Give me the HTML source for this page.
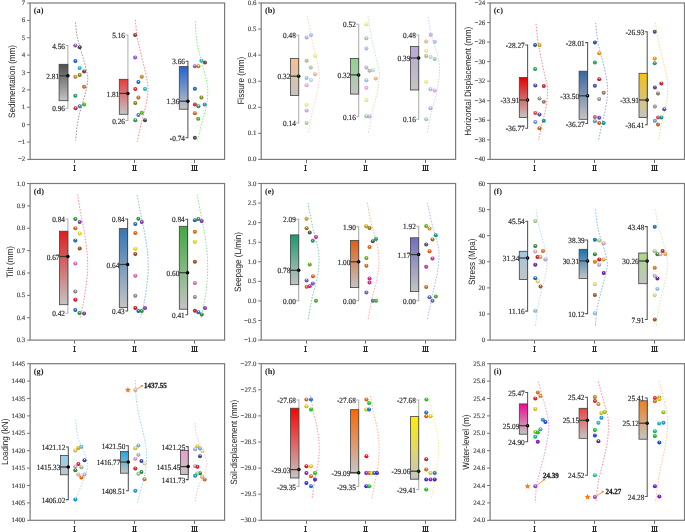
<!DOCTYPE html><html><head><meta charset="utf-8"><style>html,body{margin:0;padding:0;background:#fff;}svg{display:block;will-change:transform;filter:blur(0.3px);}text{text-rendering:geometricPrecision;}body{width:685px;height:532px;overflow:hidden;font-family:"Liberation Sans",sans-serif;}</style></head><body><svg width="685" height="532" viewBox="0 0 685 532"><defs><linearGradient id="g1" x1="0" y1="0" x2="0" y2="1"><stop offset="0" stop-color="#4e4e4e"/><stop offset="1" stop-color="#c4c4c4"/></linearGradient><radialGradient id="s0" cx="0.5" cy="0.45" r="0.58" fx="0.52" fy="0.3"><stop offset="0" stop-color="#ffffff" stop-opacity="0.85"/><stop offset="0.32" stop-color="#b060e0"/><stop offset="1" stop-color="#7e45a1"/></radialGradient><radialGradient id="s1" cx="0.5" cy="0.45" r="0.58" fx="0.52" fy="0.3"><stop offset="0" stop-color="#ffffff" stop-opacity="0.85"/><stop offset="0.32" stop-color="#505050"/><stop offset="1" stop-color="#393939"/></radialGradient><radialGradient id="s2" cx="0.5" cy="0.45" r="0.58" fx="0.52" fy="0.3"><stop offset="0" stop-color="#ffffff" stop-opacity="0.85"/><stop offset="0.32" stop-color="#2070e0"/><stop offset="1" stop-color="#1750a1"/></radialGradient><radialGradient id="s3" cx="0.5" cy="0.45" r="0.58" fx="0.52" fy="0.3"><stop offset="0" stop-color="#ffffff" stop-opacity="0.85"/><stop offset="0.32" stop-color="#20d0e0"/><stop offset="1" stop-color="#1795a1"/></radialGradient><radialGradient id="s4" cx="0.5" cy="0.45" r="0.58" fx="0.52" fy="0.3"><stop offset="0" stop-color="#ffffff" stop-opacity="0.85"/><stop offset="0.32" stop-color="#8a4848"/><stop offset="1" stop-color="#633333"/></radialGradient><radialGradient id="s5" cx="0.5" cy="0.45" r="0.58" fx="0.52" fy="0.3"><stop offset="0" stop-color="#ffffff" stop-opacity="0.85"/><stop offset="0.32" stop-color="#909820"/><stop offset="1" stop-color="#676d17"/></radialGradient><radialGradient id="s6" cx="0.5" cy="0.45" r="0.58" fx="0.52" fy="0.3"><stop offset="0" stop-color="#ffffff" stop-opacity="0.85"/><stop offset="0.32" stop-color="#d8a018"/><stop offset="1" stop-color="#9b7311"/></radialGradient><radialGradient id="s7" cx="0.5" cy="0.45" r="0.58" fx="0.52" fy="0.3"><stop offset="0" stop-color="#ffffff" stop-opacity="0.85"/><stop offset="0.32" stop-color="#f07020"/><stop offset="1" stop-color="#ac5017"/></radialGradient><radialGradient id="s8" cx="0.5" cy="0.45" r="0.58" fx="0.52" fy="0.3"><stop offset="0" stop-color="#ffffff" stop-opacity="0.85"/><stop offset="0.32" stop-color="#30b070"/><stop offset="1" stop-color="#227e50"/></radialGradient><radialGradient id="s9" cx="0.5" cy="0.45" r="0.58" fx="0.52" fy="0.3"><stop offset="0" stop-color="#ffffff" stop-opacity="0.85"/><stop offset="0.32" stop-color="#60c020"/><stop offset="1" stop-color="#458a17"/></radialGradient><radialGradient id="s10" cx="0.5" cy="0.45" r="0.58" fx="0.52" fy="0.3"><stop offset="0" stop-color="#ffffff" stop-opacity="0.85"/><stop offset="0.32" stop-color="#5090d8"/><stop offset="1" stop-color="#39679b"/></radialGradient><radialGradient id="s11" cx="0.5" cy="0.45" r="0.58" fx="0.52" fy="0.3"><stop offset="0" stop-color="#ffffff" stop-opacity="0.85"/><stop offset="0.32" stop-color="#e83848"/><stop offset="1" stop-color="#a72833"/></radialGradient><linearGradient id="g2" x1="0" y1="0" x2="0" y2="1"><stop offset="0" stop-color="#e83c3c"/><stop offset="1" stop-color="#c4c4c4"/></linearGradient><linearGradient id="g3" x1="0" y1="0" x2="0" y2="1"><stop offset="0" stop-color="#2066d0"/><stop offset="1" stop-color="#c4c4c4"/></linearGradient><linearGradient id="g4" x1="0" y1="0" x2="0" y2="1"><stop offset="0" stop-color="#f8c090"/><stop offset="1" stop-color="#c4c4c4"/></linearGradient><radialGradient id="s12" cx="0.5" cy="0.45" r="0.58" fx="0.52" fy="0.3"><stop offset="0" stop-color="#ffffff" stop-opacity="0.85"/><stop offset="0.32" stop-color="#b0c8fa"/><stop offset="1" stop-color="#97acd7"/></radialGradient><radialGradient id="s13" cx="0.5" cy="0.45" r="0.58" fx="0.52" fy="0.3"><stop offset="0" stop-color="#ffffff" stop-opacity="0.85"/><stop offset="0.32" stop-color="#d0b4ec"/><stop offset="1" stop-color="#b29aca"/></radialGradient><radialGradient id="s14" cx="0.5" cy="0.45" r="0.58" fx="0.52" fy="0.3"><stop offset="0" stop-color="#ffffff" stop-opacity="0.85"/><stop offset="0.32" stop-color="#faf490"/><stop offset="1" stop-color="#d7d17b"/></radialGradient><radialGradient id="s15" cx="0.5" cy="0.45" r="0.58" fx="0.52" fy="0.3"><stop offset="0" stop-color="#ffffff" stop-opacity="0.85"/><stop offset="0.32" stop-color="#c0c0a0"/><stop offset="1" stop-color="#a5a589"/></radialGradient><radialGradient id="s16" cx="0.5" cy="0.45" r="0.58" fx="0.52" fy="0.3"><stop offset="0" stop-color="#ffffff" stop-opacity="0.85"/><stop offset="0.32" stop-color="#a8dca8"/><stop offset="1" stop-color="#90bd90"/></radialGradient><radialGradient id="s17" cx="0.5" cy="0.45" r="0.58" fx="0.52" fy="0.3"><stop offset="0" stop-color="#ffffff" stop-opacity="0.85"/><stop offset="0.32" stop-color="#f8c098"/><stop offset="1" stop-color="#d5a582"/></radialGradient><radialGradient id="s18" cx="0.5" cy="0.45" r="0.58" fx="0.52" fy="0.3"><stop offset="0" stop-color="#ffffff" stop-opacity="0.85"/><stop offset="0.32" stop-color="#bce6f4"/><stop offset="1" stop-color="#a1c5d1"/></radialGradient><radialGradient id="s19" cx="0.5" cy="0.45" r="0.58" fx="0.52" fy="0.3"><stop offset="0" stop-color="#ffffff" stop-opacity="0.85"/><stop offset="0.32" stop-color="#faaaf4"/><stop offset="1" stop-color="#d792d1"/></radialGradient><linearGradient id="g5" x1="0" y1="0" x2="0" y2="1"><stop offset="0" stop-color="#8ed08e"/><stop offset="1" stop-color="#c4c4c4"/></linearGradient><linearGradient id="g6" x1="0" y1="0" x2="0" y2="1"><stop offset="0" stop-color="#b8a8d8"/><stop offset="1" stop-color="#c4c4c4"/></linearGradient><linearGradient id="g7" x1="0" y1="0" x2="0" y2="1"><stop offset="0" stop-color="#e60000"/><stop offset="1" stop-color="#c4c4c4"/></linearGradient><radialGradient id="s20" cx="0.5" cy="0.45" r="0.58" fx="0.52" fy="0.3"><stop offset="0" stop-color="#ffffff" stop-opacity="0.85"/><stop offset="0.32" stop-color="#3860a8"/><stop offset="1" stop-color="#284578"/></radialGradient><radialGradient id="s21" cx="0.5" cy="0.45" r="0.58" fx="0.52" fy="0.3"><stop offset="0" stop-color="#ffffff" stop-opacity="0.85"/><stop offset="0.32" stop-color="#f0b020"/><stop offset="1" stop-color="#ac7e17"/></radialGradient><radialGradient id="s22" cx="0.5" cy="0.45" r="0.58" fx="0.52" fy="0.3"><stop offset="0" stop-color="#ffffff" stop-opacity="0.85"/><stop offset="0.32" stop-color="#30b860"/><stop offset="1" stop-color="#228445"/></radialGradient><radialGradient id="s23" cx="0.5" cy="0.45" r="0.58" fx="0.52" fy="0.3"><stop offset="0" stop-color="#ffffff" stop-opacity="0.85"/><stop offset="0.32" stop-color="#5858b0"/><stop offset="1" stop-color="#3f3f7e"/></radialGradient><radialGradient id="s24" cx="0.5" cy="0.45" r="0.58" fx="0.52" fy="0.3"><stop offset="0" stop-color="#ffffff" stop-opacity="0.85"/><stop offset="0.32" stop-color="#d83040"/><stop offset="1" stop-color="#9b222e"/></radialGradient><radialGradient id="s25" cx="0.5" cy="0.45" r="0.58" fx="0.52" fy="0.3"><stop offset="0" stop-color="#ffffff" stop-opacity="0.85"/><stop offset="0.32" stop-color="#a8a8a8"/><stop offset="1" stop-color="#787878"/></radialGradient><radialGradient id="s26" cx="0.5" cy="0.45" r="0.58" fx="0.52" fy="0.3"><stop offset="0" stop-color="#ffffff" stop-opacity="0.85"/><stop offset="0.32" stop-color="#a08878"/><stop offset="1" stop-color="#736156"/></radialGradient><radialGradient id="s27" cx="0.5" cy="0.45" r="0.58" fx="0.52" fy="0.3"><stop offset="0" stop-color="#ffffff" stop-opacity="0.85"/><stop offset="0.32" stop-color="#f05868"/><stop offset="1" stop-color="#ac3f4a"/></radialGradient><radialGradient id="s28" cx="0.5" cy="0.45" r="0.58" fx="0.52" fy="0.3"><stop offset="0" stop-color="#ffffff" stop-opacity="0.85"/><stop offset="0.32" stop-color="#6858d0"/><stop offset="1" stop-color="#4a3f95"/></radialGradient><radialGradient id="s29" cx="0.5" cy="0.45" r="0.58" fx="0.52" fy="0.3"><stop offset="0" stop-color="#ffffff" stop-opacity="0.85"/><stop offset="0.32" stop-color="#70a8e8"/><stop offset="1" stop-color="#5078a7"/></radialGradient><radialGradient id="s30" cx="0.5" cy="0.45" r="0.58" fx="0.52" fy="0.3"><stop offset="0" stop-color="#ffffff" stop-opacity="0.85"/><stop offset="0.32" stop-color="#10a8a8"/><stop offset="1" stop-color="#0b7878"/></radialGradient><radialGradient id="s31" cx="0.5" cy="0.45" r="0.58" fx="0.52" fy="0.3"><stop offset="0" stop-color="#ffffff" stop-opacity="0.85"/><stop offset="0.32" stop-color="#d87020"/><stop offset="1" stop-color="#9b5017"/></radialGradient><linearGradient id="g8" x1="0" y1="0" x2="0" y2="1"><stop offset="0" stop-color="#3a66a0"/><stop offset="1" stop-color="#c4c4c4"/></linearGradient><linearGradient id="g9" x1="0" y1="0" x2="0" y2="1"><stop offset="0" stop-color="#f8c010"/><stop offset="1" stop-color="#c4c4c4"/></linearGradient><linearGradient id="g10" x1="0" y1="0" x2="0" y2="1"><stop offset="0" stop-color="#e01c1c"/><stop offset="1" stop-color="#c4c4c4"/></linearGradient><radialGradient id="s32" cx="0.5" cy="0.45" r="0.58" fx="0.52" fy="0.3"><stop offset="0" stop-color="#ffffff" stop-opacity="0.85"/><stop offset="0.32" stop-color="#30a840"/><stop offset="1" stop-color="#22782e"/></radialGradient><radialGradient id="s33" cx="0.5" cy="0.45" r="0.58" fx="0.52" fy="0.3"><stop offset="0" stop-color="#ffffff" stop-opacity="0.85"/><stop offset="0.32" stop-color="#9040c0"/><stop offset="1" stop-color="#672e8a"/></radialGradient><radialGradient id="s34" cx="0.5" cy="0.45" r="0.58" fx="0.52" fy="0.3"><stop offset="0" stop-color="#ffffff" stop-opacity="0.85"/><stop offset="0.32" stop-color="#f07810"/><stop offset="1" stop-color="#ac560b"/></radialGradient><radialGradient id="s35" cx="0.5" cy="0.45" r="0.58" fx="0.52" fy="0.3"><stop offset="0" stop-color="#ffffff" stop-opacity="0.85"/><stop offset="0.32" stop-color="#f8f020"/><stop offset="1" stop-color="#b2ac17"/></radialGradient><radialGradient id="s36" cx="0.5" cy="0.45" r="0.58" fx="0.52" fy="0.3"><stop offset="0" stop-color="#ffffff" stop-opacity="0.85"/><stop offset="0.32" stop-color="#2878c8"/><stop offset="1" stop-color="#1c5690"/></radialGradient><radialGradient id="s37" cx="0.5" cy="0.45" r="0.58" fx="0.52" fy="0.3"><stop offset="0" stop-color="#ffffff" stop-opacity="0.85"/><stop offset="0.32" stop-color="#a85828"/><stop offset="1" stop-color="#783f1c"/></radialGradient><radialGradient id="s38" cx="0.5" cy="0.45" r="0.58" fx="0.52" fy="0.3"><stop offset="0" stop-color="#ffffff" stop-opacity="0.85"/><stop offset="0.32" stop-color="#f078c8"/><stop offset="1" stop-color="#ac5690"/></radialGradient><radialGradient id="s39" cx="0.5" cy="0.45" r="0.58" fx="0.52" fy="0.3"><stop offset="0" stop-color="#ffffff" stop-opacity="0.85"/><stop offset="0.32" stop-color="#989898"/><stop offset="1" stop-color="#6d6d6d"/></radialGradient><radialGradient id="s40" cx="0.5" cy="0.45" r="0.58" fx="0.52" fy="0.3"><stop offset="0" stop-color="#ffffff" stop-opacity="0.85"/><stop offset="0.32" stop-color="#e82028"/><stop offset="1" stop-color="#a7171c"/></radialGradient><linearGradient id="g11" x1="0" y1="0" x2="0" y2="1"><stop offset="0" stop-color="#3476b6"/><stop offset="1" stop-color="#c4c4c4"/></linearGradient><linearGradient id="g12" x1="0" y1="0" x2="0" y2="1"><stop offset="0" stop-color="#40a840"/><stop offset="1" stop-color="#c4c4c4"/></linearGradient><linearGradient id="g13" x1="0" y1="0" x2="0" y2="1"><stop offset="0" stop-color="#1a9a70"/><stop offset="1" stop-color="#c4c4c4"/></linearGradient><radialGradient id="s41" cx="0.5" cy="0.45" r="0.58" fx="0.52" fy="0.3"><stop offset="0" stop-color="#ffffff" stop-opacity="0.85"/><stop offset="0.32" stop-color="#e8b020"/><stop offset="1" stop-color="#a77e17"/></radialGradient><radialGradient id="s42" cx="0.5" cy="0.45" r="0.58" fx="0.52" fy="0.3"><stop offset="0" stop-color="#ffffff" stop-opacity="0.85"/><stop offset="0.32" stop-color="#b08020"/><stop offset="1" stop-color="#7e5c17"/></radialGradient><radialGradient id="s43" cx="0.5" cy="0.45" r="0.58" fx="0.52" fy="0.3"><stop offset="0" stop-color="#ffffff" stop-opacity="0.85"/><stop offset="0.32" stop-color="#606060"/><stop offset="1" stop-color="#454545"/></radialGradient><radialGradient id="s44" cx="0.5" cy="0.45" r="0.58" fx="0.52" fy="0.3"><stop offset="0" stop-color="#ffffff" stop-opacity="0.85"/><stop offset="0.32" stop-color="#f030a0"/><stop offset="1" stop-color="#ac2273"/></radialGradient><radialGradient id="s45" cx="0.5" cy="0.45" r="0.58" fx="0.52" fy="0.3"><stop offset="0" stop-color="#ffffff" stop-opacity="0.85"/><stop offset="0.32" stop-color="#20a880"/><stop offset="1" stop-color="#17785c"/></radialGradient><radialGradient id="s46" cx="0.5" cy="0.45" r="0.58" fx="0.52" fy="0.3"><stop offset="0" stop-color="#ffffff" stop-opacity="0.85"/><stop offset="0.32" stop-color="#78c020"/><stop offset="1" stop-color="#568a17"/></radialGradient><radialGradient id="s47" cx="0.5" cy="0.45" r="0.58" fx="0.52" fy="0.3"><stop offset="0" stop-color="#ffffff" stop-opacity="0.85"/><stop offset="0.32" stop-color="#7070d0"/><stop offset="1" stop-color="#505095"/></radialGradient><radialGradient id="s48" cx="0.5" cy="0.45" r="0.58" fx="0.52" fy="0.3"><stop offset="0" stop-color="#ffffff" stop-opacity="0.85"/><stop offset="0.32" stop-color="#58b830"/><stop offset="1" stop-color="#3f8422"/></radialGradient><linearGradient id="g14" x1="0" y1="0" x2="0" y2="1"><stop offset="0" stop-color="#e06010"/><stop offset="1" stop-color="#c4c4c4"/></linearGradient><linearGradient id="g15" x1="0" y1="0" x2="0" y2="1"><stop offset="0" stop-color="#7070c0"/><stop offset="1" stop-color="#c4c4c4"/></linearGradient><linearGradient id="g16" x1="0" y1="0" x2="0" y2="1"><stop offset="0" stop-color="#a0c8e4"/><stop offset="1" stop-color="#c4c4c4"/></linearGradient><radialGradient id="s49" cx="0.5" cy="0.45" r="0.58" fx="0.52" fy="0.3"><stop offset="0" stop-color="#ffffff" stop-opacity="0.85"/><stop offset="0.32" stop-color="#b8e098"/><stop offset="1" stop-color="#84a16d"/></radialGradient><radialGradient id="s50" cx="0.5" cy="0.45" r="0.58" fx="0.52" fy="0.3"><stop offset="0" stop-color="#ffffff" stop-opacity="0.85"/><stop offset="0.32" stop-color="#30a040"/><stop offset="1" stop-color="#22732e"/></radialGradient><radialGradient id="s51" cx="0.5" cy="0.45" r="0.58" fx="0.52" fy="0.3"><stop offset="0" stop-color="#ffffff" stop-opacity="0.85"/><stop offset="0.32" stop-color="#f88010"/><stop offset="1" stop-color="#b25c0b"/></radialGradient><radialGradient id="s52" cx="0.5" cy="0.45" r="0.58" fx="0.52" fy="0.3"><stop offset="0" stop-color="#ffffff" stop-opacity="0.85"/><stop offset="0.32" stop-color="#f8b8c8"/><stop offset="1" stop-color="#b28490"/></radialGradient><radialGradient id="s53" cx="0.5" cy="0.45" r="0.58" fx="0.52" fy="0.3"><stop offset="0" stop-color="#ffffff" stop-opacity="0.85"/><stop offset="0.32" stop-color="#e02030"/><stop offset="1" stop-color="#a11722"/></radialGradient><radialGradient id="s54" cx="0.5" cy="0.45" r="0.58" fx="0.52" fy="0.3"><stop offset="0" stop-color="#ffffff" stop-opacity="0.85"/><stop offset="0.32" stop-color="#f8b858"/><stop offset="1" stop-color="#b2843f"/></radialGradient><radialGradient id="s55" cx="0.5" cy="0.45" r="0.58" fx="0.52" fy="0.3"><stop offset="0" stop-color="#ffffff" stop-opacity="0.85"/><stop offset="0.32" stop-color="#d0b8e8"/><stop offset="1" stop-color="#9584a7"/></radialGradient><radialGradient id="s56" cx="0.5" cy="0.45" r="0.58" fx="0.52" fy="0.3"><stop offset="0" stop-color="#ffffff" stop-opacity="0.85"/><stop offset="0.32" stop-color="#7030a0"/><stop offset="1" stop-color="#502273"/></radialGradient><radialGradient id="s57" cx="0.5" cy="0.45" r="0.58" fx="0.52" fy="0.3"><stop offset="0" stop-color="#ffffff" stop-opacity="0.85"/><stop offset="0.32" stop-color="#2080c8"/><stop offset="1" stop-color="#175c90"/></radialGradient><radialGradient id="s58" cx="0.5" cy="0.45" r="0.58" fx="0.52" fy="0.3"><stop offset="0" stop-color="#ffffff" stop-opacity="0.85"/><stop offset="0.32" stop-color="#f8f080"/><stop offset="1" stop-color="#b2ac5c"/></radialGradient><radialGradient id="s59" cx="0.5" cy="0.45" r="0.58" fx="0.52" fy="0.3"><stop offset="0" stop-color="#ffffff" stop-opacity="0.85"/><stop offset="0.32" stop-color="#c05828"/><stop offset="1" stop-color="#8a3f1c"/></radialGradient><radialGradient id="s60" cx="0.5" cy="0.45" r="0.58" fx="0.52" fy="0.3"><stop offset="0" stop-color="#ffffff" stop-opacity="0.85"/><stop offset="0.32" stop-color="#a8d0f0"/><stop offset="1" stop-color="#7895ac"/></radialGradient><linearGradient id="g17" x1="0" y1="0" x2="0" y2="1"><stop offset="0" stop-color="#1a70b0"/><stop offset="1" stop-color="#c4c4c4"/></linearGradient><linearGradient id="g18" x1="0" y1="0" x2="0" y2="1"><stop offset="0" stop-color="#a8d888"/><stop offset="1" stop-color="#c4c4c4"/></linearGradient><linearGradient id="g19" x1="0" y1="0" x2="0" y2="1"><stop offset="0" stop-color="#90d0f0"/><stop offset="1" stop-color="#c4c4c4"/></linearGradient><radialGradient id="s61" cx="0.5" cy="0.45" r="0.58" fx="0.52" fy="0.3"><stop offset="0" stop-color="#ffffff" stop-opacity="0.85"/><stop offset="0.32" stop-color="#f0e040"/><stop offset="1" stop-color="#aca12e"/></radialGradient><radialGradient id="s62" cx="0.5" cy="0.45" r="0.58" fx="0.52" fy="0.3"><stop offset="0" stop-color="#ffffff" stop-opacity="0.85"/><stop offset="0.32" stop-color="#f0c020"/><stop offset="1" stop-color="#ac8a17"/></radialGradient><radialGradient id="s63" cx="0.5" cy="0.45" r="0.58" fx="0.52" fy="0.3"><stop offset="0" stop-color="#ffffff" stop-opacity="0.85"/><stop offset="0.32" stop-color="#80c8f0"/><stop offset="1" stop-color="#5c90ac"/></radialGradient><radialGradient id="s64" cx="0.5" cy="0.45" r="0.58" fx="0.52" fy="0.3"><stop offset="0" stop-color="#ffffff" stop-opacity="0.85"/><stop offset="0.32" stop-color="#4050b0"/><stop offset="1" stop-color="#2e397e"/></radialGradient><radialGradient id="s65" cx="0.5" cy="0.45" r="0.58" fx="0.52" fy="0.3"><stop offset="0" stop-color="#ffffff" stop-opacity="0.85"/><stop offset="0.32" stop-color="#e03040"/><stop offset="1" stop-color="#a1222e"/></radialGradient><radialGradient id="s66" cx="0.5" cy="0.45" r="0.58" fx="0.52" fy="0.3"><stop offset="0" stop-color="#ffffff" stop-opacity="0.85"/><stop offset="0.32" stop-color="#f0a8d0"/><stop offset="1" stop-color="#ac7895"/></radialGradient><radialGradient id="s67" cx="0.5" cy="0.45" r="0.58" fx="0.52" fy="0.3"><stop offset="0" stop-color="#ffffff" stop-opacity="0.85"/><stop offset="0.32" stop-color="#a8d898"/><stop offset="1" stop-color="#789b6d"/></radialGradient><radialGradient id="s68" cx="0.5" cy="0.45" r="0.58" fx="0.52" fy="0.3"><stop offset="0" stop-color="#ffffff" stop-opacity="0.85"/><stop offset="0.32" stop-color="#20a040"/><stop offset="1" stop-color="#17732e"/></radialGradient><radialGradient id="s69" cx="0.5" cy="0.45" r="0.58" fx="0.52" fy="0.3"><stop offset="0" stop-color="#ffffff" stop-opacity="0.85"/><stop offset="0.32" stop-color="#f8c098"/><stop offset="1" stop-color="#b28a6d"/></radialGradient><radialGradient id="s70" cx="0.5" cy="0.45" r="0.58" fx="0.52" fy="0.3"><stop offset="0" stop-color="#ffffff" stop-opacity="0.85"/><stop offset="0.32" stop-color="#c0c0f0"/><stop offset="1" stop-color="#8a8aac"/></radialGradient><radialGradient id="s71" cx="0.5" cy="0.45" r="0.58" fx="0.52" fy="0.3"><stop offset="0" stop-color="#ffffff" stop-opacity="0.85"/><stop offset="0.32" stop-color="#f08020"/><stop offset="1" stop-color="#ac5c17"/></radialGradient><radialGradient id="s72" cx="0.5" cy="0.45" r="0.58" fx="0.52" fy="0.3"><stop offset="0" stop-color="#ffffff" stop-opacity="0.85"/><stop offset="0.32" stop-color="#20a8e8"/><stop offset="1" stop-color="#1778a7"/></radialGradient><linearGradient id="g20" x1="0" y1="0" x2="0" y2="1"><stop offset="0" stop-color="#20a8e0"/><stop offset="1" stop-color="#c4c4c4"/></linearGradient><radialGradient id="s73" cx="0.5" cy="0.45" r="0.58" fx="0.52" fy="0.3"><stop offset="0" stop-color="#ffffff" stop-opacity="0.85"/><stop offset="0.32" stop-color="#f8f0a0"/><stop offset="1" stop-color="#b2ac73"/></radialGradient><linearGradient id="g21" x1="0" y1="0" x2="0" y2="1"><stop offset="0" stop-color="#e8a0c8"/><stop offset="1" stop-color="#c4c4c4"/></linearGradient><linearGradient id="g22" x1="0" y1="0" x2="0" y2="1"><stop offset="0" stop-color="#ff0000"/><stop offset="1" stop-color="#c4c4c4"/></linearGradient><radialGradient id="s74" cx="0.5" cy="0.45" r="0.58" fx="0.52" fy="0.3"><stop offset="0" stop-color="#ffffff" stop-opacity="0.85"/><stop offset="0.32" stop-color="#ff7020"/><stop offset="1" stop-color="#b75017"/></radialGradient><radialGradient id="s75" cx="0.5" cy="0.45" r="0.58" fx="0.52" fy="0.3"><stop offset="0" stop-color="#ffffff" stop-opacity="0.85"/><stop offset="0.32" stop-color="#2080ff"/><stop offset="1" stop-color="#175cb7"/></radialGradient><radialGradient id="s76" cx="0.5" cy="0.45" r="0.58" fx="0.52" fy="0.3"><stop offset="0" stop-color="#ffffff" stop-opacity="0.85"/><stop offset="0.32" stop-color="#f8e020"/><stop offset="1" stop-color="#b2a117"/></radialGradient><radialGradient id="s77" cx="0.5" cy="0.45" r="0.58" fx="0.52" fy="0.3"><stop offset="0" stop-color="#ffffff" stop-opacity="0.85"/><stop offset="0.32" stop-color="#20e020"/><stop offset="1" stop-color="#17a117"/></radialGradient><radialGradient id="s78" cx="0.5" cy="0.45" r="0.58" fx="0.52" fy="0.3"><stop offset="0" stop-color="#ffffff" stop-opacity="0.85"/><stop offset="0.32" stop-color="#ff2020"/><stop offset="1" stop-color="#b71717"/></radialGradient><radialGradient id="s79" cx="0.5" cy="0.45" r="0.58" fx="0.52" fy="0.3"><stop offset="0" stop-color="#ffffff" stop-opacity="0.85"/><stop offset="0.32" stop-color="#a020f0"/><stop offset="1" stop-color="#7317ac"/></radialGradient><radialGradient id="s80" cx="0.5" cy="0.45" r="0.58" fx="0.52" fy="0.3"><stop offset="0" stop-color="#ffffff" stop-opacity="0.85"/><stop offset="0.32" stop-color="#6020e0"/><stop offset="1" stop-color="#4517a1"/></radialGradient><radialGradient id="s81" cx="0.5" cy="0.45" r="0.58" fx="0.52" fy="0.3"><stop offset="0" stop-color="#ffffff" stop-opacity="0.85"/><stop offset="0.32" stop-color="#5030f0"/><stop offset="1" stop-color="#3922ac"/></radialGradient><linearGradient id="g23" x1="0" y1="0" x2="0" y2="1"><stop offset="0" stop-color="#ff6600"/><stop offset="1" stop-color="#c4c4c4"/></linearGradient><linearGradient id="g24" x1="0" y1="0" x2="0" y2="1"><stop offset="0" stop-color="#ffee00"/><stop offset="1" stop-color="#c4c4c4"/></linearGradient><linearGradient id="g25" x1="0" y1="0" x2="0" y2="1"><stop offset="0" stop-color="#f00890"/><stop offset="1" stop-color="#c4c4c4"/></linearGradient><radialGradient id="s82" cx="0.5" cy="0.45" r="0.58" fx="0.52" fy="0.3"><stop offset="0" stop-color="#ffffff" stop-opacity="0.85"/><stop offset="0.32" stop-color="#e0a030"/><stop offset="1" stop-color="#a17322"/></radialGradient><radialGradient id="s83" cx="0.5" cy="0.45" r="0.58" fx="0.52" fy="0.3"><stop offset="0" stop-color="#ffffff" stop-opacity="0.85"/><stop offset="0.32" stop-color="#f03030"/><stop offset="1" stop-color="#ac2222"/></radialGradient><radialGradient id="s84" cx="0.5" cy="0.45" r="0.58" fx="0.52" fy="0.3"><stop offset="0" stop-color="#ffffff" stop-opacity="0.85"/><stop offset="0.32" stop-color="#e8e020"/><stop offset="1" stop-color="#a7a117"/></radialGradient><radialGradient id="s85" cx="0.5" cy="0.45" r="0.58" fx="0.52" fy="0.3"><stop offset="0" stop-color="#ffffff" stop-opacity="0.85"/><stop offset="0.32" stop-color="#30a0f0"/><stop offset="1" stop-color="#2273ac"/></radialGradient><radialGradient id="s86" cx="0.5" cy="0.45" r="0.58" fx="0.52" fy="0.3"><stop offset="0" stop-color="#ffffff" stop-opacity="0.85"/><stop offset="0.32" stop-color="#2050f0"/><stop offset="1" stop-color="#1739ac"/></radialGradient><radialGradient id="s87" cx="0.5" cy="0.45" r="0.58" fx="0.52" fy="0.3"><stop offset="0" stop-color="#ffffff" stop-opacity="0.85"/><stop offset="0.32" stop-color="#20d0d0"/><stop offset="1" stop-color="#179595"/></radialGradient><radialGradient id="s88" cx="0.5" cy="0.45" r="0.58" fx="0.52" fy="0.3"><stop offset="0" stop-color="#ffffff" stop-opacity="0.85"/><stop offset="0.32" stop-color="#a0e020"/><stop offset="1" stop-color="#73a117"/></radialGradient><radialGradient id="s89" cx="0.5" cy="0.45" r="0.58" fx="0.52" fy="0.3"><stop offset="0" stop-color="#ffffff" stop-opacity="0.85"/><stop offset="0.32" stop-color="#20d020"/><stop offset="1" stop-color="#179517"/></radialGradient><radialGradient id="s90" cx="0.5" cy="0.45" r="0.58" fx="0.52" fy="0.3"><stop offset="0" stop-color="#ffffff" stop-opacity="0.85"/><stop offset="0.32" stop-color="#20c8a0"/><stop offset="1" stop-color="#179073"/></radialGradient><radialGradient id="s91" cx="0.5" cy="0.45" r="0.58" fx="0.52" fy="0.3"><stop offset="0" stop-color="#ffffff" stop-opacity="0.85"/><stop offset="0.32" stop-color="#8020e0"/><stop offset="1" stop-color="#5c17a1"/></radialGradient><radialGradient id="s92" cx="0.5" cy="0.45" r="0.58" fx="0.52" fy="0.3"><stop offset="0" stop-color="#ffffff" stop-opacity="0.85"/><stop offset="0.32" stop-color="#b050e0"/><stop offset="1" stop-color="#7e39a1"/></radialGradient><linearGradient id="g26" x1="0" y1="0" x2="0" y2="1"><stop offset="0" stop-color="#f04040"/><stop offset="1" stop-color="#c4c4c4"/></linearGradient><radialGradient id="s93" cx="0.5" cy="0.45" r="0.58" fx="0.52" fy="0.3"><stop offset="0" stop-color="#ffffff" stop-opacity="0.85"/><stop offset="0.32" stop-color="#20e0a0"/><stop offset="1" stop-color="#17a173"/></radialGradient><linearGradient id="g27" x1="0" y1="0" x2="0" y2="1"><stop offset="0" stop-color="#f08020"/><stop offset="1" stop-color="#c4c4c4"/></linearGradient></defs><rect width="685" height="532" fill="#fff"/><text x="0" y="0" transform="translate(14.5,117.9) rotate(-90) scale(0.882,1)" text-anchor="start" font-family="Liberation Sans, sans-serif" font-size="9.2" fill="#222222">Sedimentation (mm)</text>
<line x1="27.1" y1="3" x2="30.1" y2="3" stroke="#707070" stroke-width="1"/>
<text x="25.2" y="5" text-anchor="end" font-family="Liberation Serif, serif" font-size="6.8" fill="#404040" stroke="#404040" stroke-width="0.15">7</text>
<line x1="27.1" y1="20.38" x2="30.1" y2="20.38" stroke="#707070" stroke-width="1"/>
<text x="25.2" y="22.38" text-anchor="end" font-family="Liberation Serif, serif" font-size="6.8" fill="#404040" stroke="#404040" stroke-width="0.15">6</text>
<line x1="27.1" y1="37.76" x2="30.1" y2="37.76" stroke="#707070" stroke-width="1"/>
<text x="25.2" y="39.76" text-anchor="end" font-family="Liberation Serif, serif" font-size="6.8" fill="#404040" stroke="#404040" stroke-width="0.15">5</text>
<line x1="27.1" y1="55.13" x2="30.1" y2="55.13" stroke="#707070" stroke-width="1"/>
<text x="25.2" y="57.13" text-anchor="end" font-family="Liberation Serif, serif" font-size="6.8" fill="#404040" stroke="#404040" stroke-width="0.15">4</text>
<line x1="27.1" y1="72.51" x2="30.1" y2="72.51" stroke="#707070" stroke-width="1"/>
<text x="25.2" y="74.51" text-anchor="end" font-family="Liberation Serif, serif" font-size="6.8" fill="#404040" stroke="#404040" stroke-width="0.15">3</text>
<line x1="27.1" y1="89.89" x2="30.1" y2="89.89" stroke="#707070" stroke-width="1"/>
<text x="25.2" y="91.89" text-anchor="end" font-family="Liberation Serif, serif" font-size="6.8" fill="#404040" stroke="#404040" stroke-width="0.15">2</text>
<line x1="27.1" y1="107.27" x2="30.1" y2="107.27" stroke="#707070" stroke-width="1"/>
<text x="25.2" y="109.27" text-anchor="end" font-family="Liberation Serif, serif" font-size="6.8" fill="#404040" stroke="#404040" stroke-width="0.15">1</text>
<line x1="27.1" y1="124.64" x2="30.1" y2="124.64" stroke="#707070" stroke-width="1"/>
<text x="25.2" y="126.64" text-anchor="end" font-family="Liberation Serif, serif" font-size="6.8" fill="#404040" stroke="#404040" stroke-width="0.15">0</text>
<line x1="27.1" y1="142.02" x2="30.1" y2="142.02" stroke="#707070" stroke-width="1"/>
<text x="25.2" y="144.02" text-anchor="end" font-family="Liberation Serif, serif" font-size="6.8" fill="#404040" stroke="#404040" stroke-width="0.15">−1</text>
<line x1="27.1" y1="159.4" x2="30.1" y2="159.4" stroke="#707070" stroke-width="1"/>
<text x="25.2" y="161.4" text-anchor="end" font-family="Liberation Serif, serif" font-size="6.8" fill="#404040" stroke="#404040" stroke-width="0.15">−2</text>
<line x1="74.5" y1="159.4" x2="74.5" y2="163" stroke="#707070" stroke-width="1"/>
<rect x="73.2" y="165" width="2.6" height="0.8" fill="#555"/><rect x="73.2" y="170" width="2.6" height="1" fill="#2a2a2a"/><rect x="74" y="165" width="1" height="6" fill="#2a2a2a"/>
<line x1="134.5" y1="159.4" x2="134.5" y2="163" stroke="#707070" stroke-width="1"/>
<rect x="132.2" y="165" width="4.6" height="0.8" fill="#555"/><rect x="132.2" y="170" width="4.6" height="1" fill="#2a2a2a"/><rect x="133" y="165" width="1" height="6" fill="#2a2a2a"/><rect x="135" y="165" width="1" height="6" fill="#2a2a2a"/>
<line x1="194.5" y1="159.4" x2="194.5" y2="163" stroke="#707070" stroke-width="1"/>
<rect x="191.2" y="165" width="6.6" height="0.8" fill="#555"/><rect x="191.2" y="170" width="6.6" height="1" fill="#2a2a2a"/><rect x="192" y="165" width="1" height="6" fill="#2a2a2a"/><rect x="194" y="165" width="1" height="6" fill="#2a2a2a"/><rect x="196" y="165" width="1" height="6" fill="#2a2a2a"/>
<rect x="30.1" y="3" width="194.5" height="156.4" fill="none" stroke="#7a7a7a" stroke-width="1.2"/>
<text x="33.8" y="13.4" font-family="Liberation Serif, serif" font-weight="bold" font-size="8.3" fill="#202020">(a)</text>
<text x="0" y="0" transform="translate(65,48.5) scale(0.925,1)" text-anchor="end" font-family="Liberation Serif, serif" font-size="7.9" fill="#262626" stroke="#262626" stroke-width="0.16">4.56</text>
<text x="0" y="0" transform="translate(65,111.4) scale(0.925,1)" text-anchor="end" font-family="Liberation Serif, serif" font-size="7.9" fill="#262626" stroke="#262626" stroke-width="0.16">0.96</text>
<text x="0" y="0" transform="translate(59.1,78.9) scale(0.925,1)" text-anchor="end" font-family="Liberation Serif, serif" font-size="7.9" fill="#262626" stroke="#262626" stroke-width="0.16">2.81</text>
<path d="M65.5,45.4 H67.9 V108.3 H65.5" fill="none" stroke="#b0b0b0" stroke-width="1.05"/>
<rect x="59.1" y="64.3" width="8.8" height="36.4" fill="url(#g1)" stroke="#404040" stroke-width="0.8"/>
<line x1="59.1" y1="75.8" x2="67.9" y2="75.8" stroke="#383838" stroke-width="1.2"/>
<path d="M75.6,22.3 C75.8,24.33 76.1,30.43 76.8,34.5 C77.5,38.57 78.7,42.63 79.8,46.7 C80.9,50.77 82.27,54.83 83.4,58.9 C84.53,62.97 85.87,67.85 86.6,71.1 C87.33,74.35 87.8,75.55 87.8,78.4 C87.8,81.25 87.33,84.53 86.6,88.2 C85.87,91.87 84.53,96.33 83.4,100.4 C82.27,104.47 80.82,108.53 79.8,112.6 C78.78,116.67 78,120.15 77.3,124.8 C76.6,129.45 75.88,137.88 75.6,140.5" fill="none" stroke="#606060" stroke-width="0.8" stroke-dasharray="1.6,1.4" stroke-opacity="0.8"/>
<circle cx="75.3" cy="45.4" r="2.0" fill="url(#s0)"/>
<circle cx="79.7" cy="47.3" r="2.0" fill="url(#s1)"/>
<circle cx="75.4" cy="60.9" r="2.0" fill="url(#s2)"/>
<circle cx="79.6" cy="67.9" r="2.0" fill="url(#s3)"/>
<circle cx="84.1" cy="71.5" r="2.0" fill="url(#s4)"/>
<circle cx="79.7" cy="75" r="2.0" fill="url(#s5)"/>
<circle cx="75.4" cy="76.7" r="2.0" fill="url(#s6)"/>
<circle cx="84.1" cy="86.8" r="2.0" fill="url(#s7)"/>
<circle cx="75.3" cy="95.8" r="2.0" fill="url(#s8)"/>
<circle cx="84.1" cy="104.6" r="2.0" fill="url(#s9)"/>
<circle cx="79.7" cy="106.3" r="2.0" fill="url(#s10)"/>
<circle cx="75.5" cy="108.3" r="2.0" fill="url(#s11)"/>
<circle cx="67.9" cy="75.8" r="1.75" fill="#000"/>
<circle cx="67.7" cy="75.6" r="0.65" fill="#a00000" fill-opacity="0.85"/>
<text x="0" y="0" transform="translate(125,38.1) scale(0.925,1)" text-anchor="end" font-family="Liberation Serif, serif" font-size="7.9" fill="#262626" stroke="#262626" stroke-width="0.16">5.16</text>
<text x="0" y="0" transform="translate(125,123.5) scale(0.925,1)" text-anchor="end" font-family="Liberation Serif, serif" font-size="7.9" fill="#262626" stroke="#262626" stroke-width="0.16">0.26</text>
<text x="0" y="0" transform="translate(119.3,96.5) scale(0.925,1)" text-anchor="end" font-family="Liberation Serif, serif" font-size="7.9" fill="#262626" stroke="#262626" stroke-width="0.16">1.81</text>
<path d="M125.5,35 H127.9 V120.4 H125.5" fill="none" stroke="#b0b0b0" stroke-width="1.05"/>
<rect x="119.3" y="79.3" width="8.6" height="35" fill="url(#g2)" stroke="#404040" stroke-width="0.8"/>
<line x1="119.3" y1="93.4" x2="127.9" y2="93.4" stroke="#383838" stroke-width="1.2"/>
<path d="M135.4,19.9 C135.63,22.33 136.15,30.03 136.8,34.5 C137.45,38.97 138.4,42.63 139.3,46.7 C140.2,50.77 141.23,54.83 142.2,58.9 C143.17,62.97 144.2,67.03 145.1,71.1 C146,75.17 147.15,79.65 147.6,83.3 C148.05,86.95 148.08,89.35 147.8,93 C147.52,96.65 146.75,101.13 145.9,105.2 C145.05,109.27 143.72,113.33 142.7,117.4 C141.68,121.47 140.7,125.53 139.8,129.6 C138.9,133.67 137.72,139.77 137.3,141.8" fill="none" stroke="#ff4848" stroke-width="0.8" stroke-dasharray="1.6,1.4" stroke-opacity="0.8"/>
<circle cx="135.1" cy="35" r="2.0" fill="url(#s4)"/>
<circle cx="135.1" cy="57.6" r="2.0" fill="url(#s0)"/>
<circle cx="141.8" cy="76.7" r="2.0" fill="url(#s6)"/>
<circle cx="138.4" cy="82.1" r="2.0" fill="url(#s2)"/>
<circle cx="135.3" cy="89.1" r="2.0" fill="url(#s11)"/>
<circle cx="145" cy="89.1" r="2.0" fill="url(#s3)"/>
<circle cx="138.4" cy="97.6" r="2.0" fill="url(#s7)"/>
<circle cx="135.3" cy="102.9" r="2.0" fill="url(#s5)"/>
<circle cx="141.8" cy="112.8" r="2.0" fill="url(#s9)"/>
<circle cx="138.4" cy="115" r="2.0" fill="url(#s10)"/>
<circle cx="135.3" cy="120.3" r="2.0" fill="url(#s8)"/>
<circle cx="145" cy="120.3" r="2.0" fill="url(#s1)"/>
<circle cx="127.9" cy="93.4" r="1.75" fill="#000"/>
<circle cx="127.7" cy="93.2" r="0.65" fill="#a00000" fill-opacity="0.85"/>
<text x="0" y="0" transform="translate(185,64.4) scale(0.925,1)" text-anchor="end" font-family="Liberation Serif, serif" font-size="7.9" fill="#262626" stroke="#262626" stroke-width="0.16">3.66</text>
<text x="0" y="0" transform="translate(185,140.9) scale(0.925,1)" text-anchor="end" font-family="Liberation Serif, serif" font-size="7.9" fill="#262626" stroke="#262626" stroke-width="0.16">-0.74</text>
<text x="0" y="0" transform="translate(179.3,104.3) scale(0.925,1)" text-anchor="end" font-family="Liberation Serif, serif" font-size="7.9" fill="#262626" stroke="#262626" stroke-width="0.16">1.36</text>
<path d="M185.5,61.3 H187.9 V137.8 H185.5" fill="none" stroke="#555555" stroke-width="1.05"/>
<rect x="179.3" y="66.6" width="8.6" height="42.6" fill="url(#g3)" stroke="#404040" stroke-width="0.8"/>
<line x1="179.3" y1="101.2" x2="187.9" y2="101.2" stroke="#383838" stroke-width="1.2"/>
<path d="M195.4,21.1 C195.52,23.33 195.7,30.23 196.1,34.5 C196.5,38.77 196.98,42.63 197.8,46.7 C198.62,50.77 199.95,54.83 201,58.9 C202.05,62.97 203.08,67.03 204.1,71.1 C205.12,75.17 206.48,79.65 207.1,83.3 C207.72,86.95 207.88,89.35 207.8,93 C207.72,96.65 207.33,101.13 206.6,105.2 C205.87,109.27 204.47,113.33 203.4,117.4 C202.33,121.47 201.22,125.53 200.2,129.6 C199.18,133.67 197.78,139.77 197.3,141.8" fill="none" stroke="#40e040" stroke-width="0.8" stroke-dasharray="1.6,1.4" stroke-opacity="0.8"/>
<circle cx="201.4" cy="60.7" r="2.0" fill="url(#s3)"/>
<circle cx="205" cy="62.6" r="2.0" fill="url(#s4)"/>
<circle cx="194.9" cy="66.3" r="2.0" fill="url(#s0)"/>
<circle cx="198.4" cy="66.3" r="2.0" fill="url(#s6)"/>
<circle cx="194.9" cy="88.8" r="2.0" fill="url(#s2)"/>
<circle cx="201.4" cy="97.6" r="2.0" fill="url(#s5)"/>
<circle cx="194.9" cy="104.6" r="2.0" fill="url(#s11)"/>
<circle cx="198.4" cy="106.2" r="2.0" fill="url(#s8)"/>
<circle cx="204.7" cy="104.6" r="2.0" fill="url(#s10)"/>
<circle cx="194.9" cy="113.2" r="2.0" fill="url(#s7)"/>
<circle cx="198.2" cy="118.7" r="2.0" fill="url(#s9)"/>
<circle cx="194.9" cy="137.8" r="2.0" fill="url(#s1)"/>
<circle cx="187.9" cy="101.2" r="1.75" fill="#000"/>
<circle cx="187.7" cy="101" r="0.65" fill="#a00000" fill-opacity="0.85"/>
<text x="0" y="0" transform="translate(243.7,104.6) rotate(-90) scale(0.882,1)" text-anchor="start" font-family="Liberation Sans, sans-serif" font-size="9.2" fill="#222222">Fissure (mm)</text>
<line x1="258.2" y1="3" x2="261.2" y2="3" stroke="#707070" stroke-width="1"/>
<text x="256.3" y="5" text-anchor="end" font-family="Liberation Serif, serif" font-size="6.8" fill="#404040" stroke="#404040" stroke-width="0.15">0.6</text>
<line x1="258.2" y1="29.07" x2="261.2" y2="29.07" stroke="#707070" stroke-width="1"/>
<text x="256.3" y="31.07" text-anchor="end" font-family="Liberation Serif, serif" font-size="6.8" fill="#404040" stroke="#404040" stroke-width="0.15">0.5</text>
<line x1="258.2" y1="55.13" x2="261.2" y2="55.13" stroke="#707070" stroke-width="1"/>
<text x="256.3" y="57.13" text-anchor="end" font-family="Liberation Serif, serif" font-size="6.8" fill="#404040" stroke="#404040" stroke-width="0.15">0.4</text>
<line x1="258.2" y1="81.2" x2="261.2" y2="81.2" stroke="#707070" stroke-width="1"/>
<text x="256.3" y="83.2" text-anchor="end" font-family="Liberation Serif, serif" font-size="6.8" fill="#404040" stroke="#404040" stroke-width="0.15">0.3</text>
<line x1="258.2" y1="107.27" x2="261.2" y2="107.27" stroke="#707070" stroke-width="1"/>
<text x="256.3" y="109.27" text-anchor="end" font-family="Liberation Serif, serif" font-size="6.8" fill="#404040" stroke="#404040" stroke-width="0.15">0.2</text>
<line x1="258.2" y1="133.33" x2="261.2" y2="133.33" stroke="#707070" stroke-width="1"/>
<text x="256.3" y="135.33" text-anchor="end" font-family="Liberation Serif, serif" font-size="6.8" fill="#404040" stroke="#404040" stroke-width="0.15">0.1</text>
<line x1="258.2" y1="159.4" x2="261.2" y2="159.4" stroke="#707070" stroke-width="1"/>
<text x="256.3" y="161.4" text-anchor="end" font-family="Liberation Serif, serif" font-size="6.8" fill="#404040" stroke="#404040" stroke-width="0.15">0.0</text>
<line x1="306.5" y1="159.4" x2="306.5" y2="163" stroke="#707070" stroke-width="1"/>
<rect x="304.2" y="165" width="2.6" height="0.8" fill="#555"/><rect x="304.2" y="170" width="2.6" height="1" fill="#2a2a2a"/><rect x="305" y="165" width="1" height="6" fill="#2a2a2a"/>
<line x1="365.5" y1="159.4" x2="365.5" y2="163" stroke="#707070" stroke-width="1"/>
<rect x="363.2" y="165" width="4.6" height="0.8" fill="#555"/><rect x="363.2" y="170" width="4.6" height="1" fill="#2a2a2a"/><rect x="364" y="165" width="1" height="6" fill="#2a2a2a"/><rect x="366" y="165" width="1" height="6" fill="#2a2a2a"/>
<line x1="425.5" y1="159.4" x2="425.5" y2="163" stroke="#707070" stroke-width="1"/>
<rect x="422.2" y="165" width="6.6" height="0.8" fill="#555"/><rect x="422.2" y="170" width="6.6" height="1" fill="#2a2a2a"/><rect x="423" y="165" width="1" height="6" fill="#2a2a2a"/><rect x="425" y="165" width="1" height="6" fill="#2a2a2a"/><rect x="427" y="165" width="1" height="6" fill="#2a2a2a"/>
<rect x="261.2" y="3" width="194.4" height="156.4" fill="none" stroke="#7a7a7a" stroke-width="1.2"/>
<text x="264.9" y="13.4" font-family="Liberation Serif, serif" font-weight="bold" font-size="8.3" fill="#202020">(b)</text>
<text x="0" y="0" transform="translate(295.8,38.3) scale(0.925,1)" text-anchor="end" font-family="Liberation Serif, serif" font-size="7.9" fill="#262626" stroke="#262626" stroke-width="0.16">0.48</text>
<text x="0" y="0" transform="translate(295.8,126.1) scale(0.925,1)" text-anchor="end" font-family="Liberation Serif, serif" font-size="7.9" fill="#262626" stroke="#262626" stroke-width="0.16">0.14</text>
<text x="0" y="0" transform="translate(290.4,79.3) scale(0.925,1)" text-anchor="end" font-family="Liberation Serif, serif" font-size="7.9" fill="#262626" stroke="#262626" stroke-width="0.16">0.32</text>
<path d="M296.3,35.2 H298.7 V123 H296.3" fill="none" stroke="#b0b0b0" stroke-width="1.05"/>
<rect x="290.4" y="58.4" width="8.3" height="37" fill="url(#g4)" stroke="#404040" stroke-width="0.8"/>
<line x1="290.4" y1="76.2" x2="298.7" y2="76.2" stroke="#383838" stroke-width="1.2"/>
<path d="M307.3,16.1 C307.92,19.15 309.98,29.32 311,34.4 C312.02,39.48 312.47,42.53 313.4,46.6 C314.33,50.67 315.67,54.73 316.6,58.8 C317.53,62.87 318.52,67.75 319,71 C319.48,74.25 319.73,75.05 319.5,78.3 C319.27,81.55 318.42,86.43 317.6,90.5 C316.78,94.57 315.58,98.63 314.6,102.7 C313.62,106.77 312.72,109.82 311.7,114.9 C310.68,119.98 309.03,130.15 308.5,133.2" fill="none" stroke="#f8b888" stroke-width="0.8" stroke-dasharray="1.6,1.4" stroke-opacity="0.7"/>
<circle cx="311" cy="34.9" r="2.0" fill="url(#s12)"/>
<circle cx="306.6" cy="37.5" r="2.0" fill="url(#s13)"/>
<circle cx="315" cy="55.8" r="2.0" fill="url(#s14)"/>
<circle cx="306.6" cy="60.8" r="2.0" fill="url(#s15)"/>
<circle cx="310.8" cy="67.6" r="2.0" fill="url(#s16)"/>
<circle cx="315" cy="74.2" r="2.0" fill="url(#s17)"/>
<circle cx="306.6" cy="77.9" r="2.0" fill="url(#s12)"/>
<circle cx="311" cy="80.1" r="2.0" fill="url(#s18)"/>
<circle cx="306.6" cy="85.2" r="2.0" fill="url(#s19)"/>
<circle cx="306.6" cy="104.7" r="2.0" fill="url(#s14)"/>
<circle cx="306.6" cy="110.5" r="2.0" fill="url(#s13)"/>
<circle cx="306.6" cy="123" r="2.0" fill="url(#s16)"/>
<circle cx="298.7" cy="76.2" r="1.75" fill="#000"/>
<circle cx="298.5" cy="76" r="0.65" fill="#00a000" fill-opacity="0.85"/>
<text x="0" y="0" transform="translate(355.8,27.3) scale(0.925,1)" text-anchor="end" font-family="Liberation Serif, serif" font-size="7.9" fill="#262626" stroke="#262626" stroke-width="0.16">0.52</text>
<text x="0" y="0" transform="translate(355.8,119.8) scale(0.925,1)" text-anchor="end" font-family="Liberation Serif, serif" font-size="7.9" fill="#262626" stroke="#262626" stroke-width="0.16">0.16</text>
<text x="0" y="0" transform="translate(350.4,78) scale(0.925,1)" text-anchor="end" font-family="Liberation Serif, serif" font-size="7.9" fill="#262626" stroke="#262626" stroke-width="0.16">0.32</text>
<path d="M356.3,24.2 H358.7 V116.7 H356.3" fill="none" stroke="#b0b0b0" stroke-width="1.05"/>
<rect x="350.4" y="58.4" width="8.3" height="35.7" fill="url(#g5)" stroke="#404040" stroke-width="0.8"/>
<line x1="350.4" y1="74.9" x2="358.7" y2="74.9" stroke="#383838" stroke-width="1.2"/>
<path d="M368,16.1 C368.5,19.15 370.1,29.32 371,34.4 C371.9,39.48 372.52,42.53 373.4,46.6 C374.28,50.67 375.37,54.73 376.3,58.8 C377.23,62.87 378.47,68.15 379,71 C379.53,73.85 379.73,72.65 379.5,75.9 C379.27,79.15 378.42,86.03 377.6,90.5 C376.78,94.97 375.58,98.63 374.6,102.7 C373.62,106.77 372.72,109.82 371.7,114.9 C370.68,119.98 369.03,130.15 368.5,133.2" fill="none" stroke="#98d898" stroke-width="0.8" stroke-dasharray="1.6,1.4" stroke-opacity="0.7"/>
<circle cx="366.4" cy="24.2" r="2.0" fill="url(#s14)"/>
<circle cx="366.4" cy="38.3" r="2.0" fill="url(#s16)"/>
<circle cx="366.4" cy="48.6" r="2.0" fill="url(#s12)"/>
<circle cx="366.4" cy="67.6" r="2.0" fill="url(#s13)"/>
<circle cx="369.5" cy="70.8" r="2.0" fill="url(#s15)"/>
<circle cx="372.8" cy="70.3" r="2.0" fill="url(#s18)"/>
<circle cx="375.8" cy="78.4" r="2.0" fill="url(#s17)"/>
<circle cx="366.4" cy="80.3" r="2.0" fill="url(#s12)"/>
<circle cx="366.4" cy="87.8" r="2.0" fill="url(#s19)"/>
<circle cx="366.4" cy="100" r="2.0" fill="url(#s14)"/>
<circle cx="366.4" cy="116.3" r="2.0" fill="url(#s16)"/>
<circle cx="369.5" cy="116.6" r="2.0" fill="url(#s13)"/>
<circle cx="358.7" cy="74.9" r="1.75" fill="#000"/>
<circle cx="358.5" cy="74.7" r="0.65" fill="#00a000" fill-opacity="0.85"/>
<text x="0" y="0" transform="translate(415.8,38.1) scale(0.925,1)" text-anchor="end" font-family="Liberation Serif, serif" font-size="7.9" fill="#262626" stroke="#262626" stroke-width="0.16">0.48</text>
<text x="0" y="0" transform="translate(415.8,122.4) scale(0.925,1)" text-anchor="end" font-family="Liberation Serif, serif" font-size="7.9" fill="#262626" stroke="#262626" stroke-width="0.16">0.16</text>
<text x="0" y="0" transform="translate(410.4,61.1) scale(0.925,1)" text-anchor="end" font-family="Liberation Serif, serif" font-size="7.9" fill="#262626" stroke="#262626" stroke-width="0.16">0.39</text>
<path d="M416.3,35 H418.7 V119.3 H416.3" fill="none" stroke="#b0b0b0" stroke-width="1.05"/>
<rect x="410.4" y="46.4" width="8.3" height="43.6" fill="url(#g6)" stroke="#404040" stroke-width="0.8"/>
<line x1="410.4" y1="58" x2="418.7" y2="58" stroke="#383838" stroke-width="1.2"/>
<path d="M428,16.8 C428.5,19.73 429.82,29.43 431,34.4 C432.18,39.37 433.88,42.53 435.1,46.6 C436.32,50.67 437.57,54.73 438.3,58.8 C439.03,62.87 439.5,66.93 439.5,71 C439.5,75.07 438.9,79.13 438.3,83.2 C437.7,87.27 436.83,91.33 435.9,95.4 C434.97,99.47 433.72,103.53 432.7,107.6 C431.68,111.67 430.7,115.53 429.8,119.8 C428.9,124.07 427.72,130.97 427.3,133.2" fill="none" stroke="#b8a8e8" stroke-width="0.8" stroke-dasharray="1.6,1.4" stroke-opacity="0.7"/>
<circle cx="430.8" cy="34.7" r="2.0" fill="url(#s13)"/>
<circle cx="426.2" cy="41.6" r="2.0" fill="url(#s17)"/>
<circle cx="434.7" cy="41.8" r="2.0" fill="url(#s12)"/>
<circle cx="426.2" cy="50.8" r="2.0" fill="url(#s14)"/>
<circle cx="426.2" cy="56" r="2.0" fill="url(#s15)"/>
<circle cx="430.5" cy="57" r="2.0" fill="url(#s18)"/>
<circle cx="434.7" cy="58.9" r="2.0" fill="url(#s16)"/>
<circle cx="426.2" cy="81.8" r="2.0" fill="url(#s14)"/>
<circle cx="430.5" cy="89.3" r="2.0" fill="url(#s12)"/>
<circle cx="434.7" cy="90.4" r="2.0" fill="url(#s19)"/>
<circle cx="430.5" cy="108.2" r="2.0" fill="url(#s13)"/>
<circle cx="426.2" cy="119.3" r="2.0" fill="url(#s16)"/>
<circle cx="418.7" cy="58" r="1.75" fill="#000"/>
<circle cx="418.5" cy="57.8" r="0.65" fill="#00a000" fill-opacity="0.85"/>
<text x="0" y="0" transform="translate(470.6,135.8) rotate(-90) scale(0.882,1)" text-anchor="start" font-family="Liberation Sans, sans-serif" font-size="9.2" fill="#222222">Horizontal Displacement (mm)</text>
<line x1="487.1" y1="3" x2="490.1" y2="3" stroke="#707070" stroke-width="1"/>
<text x="485.2" y="5" text-anchor="end" font-family="Liberation Serif, serif" font-size="6.8" fill="#404040" stroke="#404040" stroke-width="0.15">−24</text>
<line x1="487.1" y1="22.55" x2="490.1" y2="22.55" stroke="#707070" stroke-width="1"/>
<text x="485.2" y="24.55" text-anchor="end" font-family="Liberation Serif, serif" font-size="6.8" fill="#404040" stroke="#404040" stroke-width="0.15">−26</text>
<line x1="487.1" y1="42.1" x2="490.1" y2="42.1" stroke="#707070" stroke-width="1"/>
<text x="485.2" y="44.1" text-anchor="end" font-family="Liberation Serif, serif" font-size="6.8" fill="#404040" stroke="#404040" stroke-width="0.15">−28</text>
<line x1="487.1" y1="61.65" x2="490.1" y2="61.65" stroke="#707070" stroke-width="1"/>
<text x="485.2" y="63.65" text-anchor="end" font-family="Liberation Serif, serif" font-size="6.8" fill="#404040" stroke="#404040" stroke-width="0.15">−30</text>
<line x1="487.1" y1="81.2" x2="490.1" y2="81.2" stroke="#707070" stroke-width="1"/>
<text x="485.2" y="83.2" text-anchor="end" font-family="Liberation Serif, serif" font-size="6.8" fill="#404040" stroke="#404040" stroke-width="0.15">−32</text>
<line x1="487.1" y1="100.75" x2="490.1" y2="100.75" stroke="#707070" stroke-width="1"/>
<text x="485.2" y="102.75" text-anchor="end" font-family="Liberation Serif, serif" font-size="6.8" fill="#404040" stroke="#404040" stroke-width="0.15">−34</text>
<line x1="487.1" y1="120.3" x2="490.1" y2="120.3" stroke="#707070" stroke-width="1"/>
<text x="485.2" y="122.3" text-anchor="end" font-family="Liberation Serif, serif" font-size="6.8" fill="#404040" stroke="#404040" stroke-width="0.15">−36</text>
<line x1="487.1" y1="139.85" x2="490.1" y2="139.85" stroke="#707070" stroke-width="1"/>
<text x="485.2" y="141.85" text-anchor="end" font-family="Liberation Serif, serif" font-size="6.8" fill="#404040" stroke="#404040" stroke-width="0.15">−38</text>
<line x1="487.1" y1="159.4" x2="490.1" y2="159.4" stroke="#707070" stroke-width="1"/>
<text x="485.2" y="161.4" text-anchor="end" font-family="Liberation Serif, serif" font-size="6.8" fill="#404040" stroke="#404040" stroke-width="0.15">−40</text>
<line x1="534.5" y1="159.4" x2="534.5" y2="163" stroke="#707070" stroke-width="1"/>
<rect x="533.2" y="165" width="2.6" height="0.8" fill="#555"/><rect x="533.2" y="170" width="2.6" height="1" fill="#2a2a2a"/><rect x="534" y="165" width="1" height="6" fill="#2a2a2a"/>
<line x1="594.5" y1="159.4" x2="594.5" y2="163" stroke="#707070" stroke-width="1"/>
<rect x="592.2" y="165" width="4.6" height="0.8" fill="#555"/><rect x="592.2" y="170" width="4.6" height="1" fill="#2a2a2a"/><rect x="593" y="165" width="1" height="6" fill="#2a2a2a"/><rect x="595" y="165" width="1" height="6" fill="#2a2a2a"/>
<line x1="654.5" y1="159.4" x2="654.5" y2="163" stroke="#707070" stroke-width="1"/>
<rect x="651.2" y="165" width="6.6" height="0.8" fill="#555"/><rect x="651.2" y="170" width="6.6" height="1" fill="#2a2a2a"/><rect x="652" y="165" width="1" height="6" fill="#2a2a2a"/><rect x="654" y="165" width="1" height="6" fill="#2a2a2a"/><rect x="656" y="165" width="1" height="6" fill="#2a2a2a"/>
<rect x="490.1" y="3" width="194.4" height="156.4" fill="none" stroke="#7a7a7a" stroke-width="1.2"/>
<text x="493.8" y="13.4" font-family="Liberation Serif, serif" font-weight="bold" font-size="8.3" fill="#202020">(c)</text>
<text x="0" y="0" transform="translate(524.7,48.1) scale(0.925,1)" text-anchor="end" font-family="Liberation Serif, serif" font-size="7.9" fill="#262626" stroke="#262626" stroke-width="0.16">-28.27</text>
<text x="0" y="0" transform="translate(524.7,131.4) scale(0.925,1)" text-anchor="end" font-family="Liberation Serif, serif" font-size="7.9" fill="#262626" stroke="#262626" stroke-width="0.16">-36.77</text>
<text x="0" y="0" transform="translate(519.3,103.1) scale(0.925,1)" text-anchor="end" font-family="Liberation Serif, serif" font-size="7.9" fill="#262626" stroke="#262626" stroke-width="0.16">-33.91</text>
<path d="M525.2,45 H527.6 V128.3 H525.2" fill="none" stroke="#555555" stroke-width="1.05"/>
<rect x="519.3" y="77.5" width="8.3" height="39.9" fill="url(#g7)" stroke="#404040" stroke-width="0.8"/>
<line x1="519.3" y1="100" x2="527.6" y2="100" stroke="#383838" stroke-width="1.2"/>
<path d="M536,24 C536.37,27.25 537.45,38.33 538.2,43.5 C538.95,48.67 539.72,51.08 540.5,55 C541.28,58.92 542.07,63.17 542.9,67 C543.73,70.83 544.72,74.5 545.5,78 C546.28,81.5 547.35,84.33 547.6,88 C547.85,91.67 547.5,95.67 547,100 C546.5,104.33 545.52,109.67 544.6,114 C543.68,118.33 542.5,121.67 541.5,126 C540.5,130.33 539.08,137.67 538.6,140" fill="none" stroke="#f05050" stroke-width="0.8" stroke-dasharray="1.6,1.4" stroke-opacity="0.8"/>
<circle cx="535.1" cy="45" r="2.0" fill="url(#s20)"/>
<circle cx="539.5" cy="45" r="2.0" fill="url(#s21)"/>
<circle cx="535.1" cy="69" r="2.0" fill="url(#s22)"/>
<circle cx="535.3" cy="85.5" r="2.0" fill="url(#s23)"/>
<circle cx="543.8" cy="85.9" r="2.0" fill="url(#s24)"/>
<circle cx="539.5" cy="98.4" r="2.0" fill="url(#s25)"/>
<circle cx="543.8" cy="101.7" r="2.0" fill="url(#s26)"/>
<circle cx="535.3" cy="112.9" r="2.0" fill="url(#s27)"/>
<circle cx="539.5" cy="114.5" r="2.0" fill="url(#s28)"/>
<circle cx="535.3" cy="122.1" r="2.0" fill="url(#s29)"/>
<circle cx="543.8" cy="120.7" r="2.0" fill="url(#s30)"/>
<circle cx="539.5" cy="128.3" r="2.0" fill="url(#s31)"/>
<circle cx="527.6" cy="100" r="1.75" fill="#000"/>
<circle cx="527.4" cy="99.8" r="0.65" fill="#e0e000" fill-opacity="0.85"/>
<text x="0" y="0" transform="translate(584.7,45.7) scale(0.925,1)" text-anchor="end" font-family="Liberation Serif, serif" font-size="7.9" fill="#262626" stroke="#262626" stroke-width="0.16">-28.01</text>
<text x="0" y="0" transform="translate(584.7,126.5) scale(0.925,1)" text-anchor="end" font-family="Liberation Serif, serif" font-size="7.9" fill="#262626" stroke="#262626" stroke-width="0.16">-36.27</text>
<text x="0" y="0" transform="translate(579.1,98.9) scale(0.925,1)" text-anchor="end" font-family="Liberation Serif, serif" font-size="7.9" fill="#262626" stroke="#262626" stroke-width="0.16">-33.50</text>
<path d="M585.2,42.6 H587.6 V123.4 H585.2" fill="none" stroke="#555555" stroke-width="1.05"/>
<rect x="579.1" y="71.2" width="8.5" height="48.1" fill="url(#g8)" stroke="#404040" stroke-width="0.8"/>
<line x1="579.1" y1="95.8" x2="587.6" y2="95.8" stroke="#383838" stroke-width="1.2"/>
<path d="M595.6,22.9 C596,26.15 597.1,37.12 598,42.4 C598.9,47.68 599.98,50.53 601,54.6 C602.02,58.67 603.17,62.73 604.1,66.8 C605.03,70.87 606.02,75.35 606.6,79 C607.18,82.65 607.52,85.45 607.6,88.7 C607.68,91.95 607.52,94.83 607.1,98.5 C606.68,102.17 605.92,106.63 605.1,110.7 C604.28,114.77 603.3,118.02 602.2,122.9 C601.1,127.78 599.12,137.15 598.5,140" fill="none" stroke="#5080c8" stroke-width="0.8" stroke-dasharray="1.6,1.4" stroke-opacity="0.8"/>
<circle cx="594.9" cy="42.6" r="2.0" fill="url(#s20)"/>
<circle cx="599.2" cy="53.2" r="2.0" fill="url(#s21)"/>
<circle cx="594.9" cy="62.6" r="2.0" fill="url(#s22)"/>
<circle cx="599.2" cy="79.3" r="2.0" fill="url(#s24)"/>
<circle cx="594.9" cy="85.8" r="2.0" fill="url(#s23)"/>
<circle cx="603.7" cy="92.8" r="2.0" fill="url(#s26)"/>
<circle cx="599.2" cy="99" r="2.0" fill="url(#s25)"/>
<circle cx="594.9" cy="117.1" r="2.0" fill="url(#s27)"/>
<circle cx="599.2" cy="117.8" r="2.0" fill="url(#s28)"/>
<circle cx="594.9" cy="121.3" r="2.0" fill="url(#s29)"/>
<circle cx="599.2" cy="123" r="2.0" fill="url(#s31)"/>
<circle cx="603.7" cy="123" r="2.0" fill="url(#s30)"/>
<circle cx="587.6" cy="95.8" r="1.75" fill="#000"/>
<circle cx="587.4" cy="95.6" r="0.65" fill="#e0e000" fill-opacity="0.85"/>
<text x="0" y="0" transform="translate(644.3,34.8) scale(0.925,1)" text-anchor="end" font-family="Liberation Serif, serif" font-size="7.9" fill="#262626" stroke="#262626" stroke-width="0.16">-26.93</text>
<text x="0" y="0" transform="translate(644.3,127.8) scale(0.925,1)" text-anchor="end" font-family="Liberation Serif, serif" font-size="7.9" fill="#262626" stroke="#262626" stroke-width="0.16">-36.41</text>
<text x="0" y="0" transform="translate(639,103.1) scale(0.925,1)" text-anchor="end" font-family="Liberation Serif, serif" font-size="7.9" fill="#262626" stroke="#262626" stroke-width="0.16">-33.91</text>
<path d="M644.8,31.7 H647.2 V124.7 H644.8" fill="none" stroke="#555555" stroke-width="1.05"/>
<rect x="639" y="73.3" width="8.2" height="44.2" fill="url(#g9)" stroke="#404040" stroke-width="0.8"/>
<line x1="639" y1="100" x2="647.2" y2="100" stroke="#383838" stroke-width="1.2"/>
<path d="M655.4,22.9 C655.92,26.15 657.45,37.12 658.5,42.4 C659.55,47.68 660.68,50.53 661.7,54.6 C662.72,58.67 663.7,62.73 664.6,66.8 C665.5,70.87 666.6,75.35 667.1,79 C667.6,82.65 667.6,85.45 667.6,88.7 C667.6,91.95 667.6,94.83 667.1,98.5 C666.6,102.17 665.5,106.63 664.6,110.7 C663.7,114.77 662.72,118.02 661.7,122.9 C660.68,127.78 659.03,137.15 658.5,140" fill="none" stroke="#f8c848" stroke-width="0.8" stroke-dasharray="1.6,1.4" stroke-opacity="0.8"/>
<circle cx="654.7" cy="31.7" r="2.0" fill="url(#s20)"/>
<circle cx="654.7" cy="58.4" r="2.0" fill="url(#s21)"/>
<circle cx="654.7" cy="63.3" r="2.0" fill="url(#s22)"/>
<circle cx="661.3" cy="83.4" r="2.0" fill="url(#s24)"/>
<circle cx="654.9" cy="87.5" r="2.0" fill="url(#s23)"/>
<circle cx="658" cy="93.4" r="2.0" fill="url(#s26)"/>
<circle cx="654.9" cy="106.6" r="2.0" fill="url(#s25)"/>
<circle cx="664.3" cy="109.2" r="2.0" fill="url(#s28)"/>
<circle cx="658" cy="117.5" r="2.0" fill="url(#s27)"/>
<circle cx="661.3" cy="117.5" r="2.0" fill="url(#s30)"/>
<circle cx="654.9" cy="120.8" r="2.0" fill="url(#s29)"/>
<circle cx="658" cy="124.6" r="2.0" fill="url(#s31)"/>
<circle cx="647.2" cy="100" r="1.75" fill="#000"/>
<circle cx="647" cy="99.8" r="0.65" fill="#e0e000" fill-opacity="0.85"/>
<text x="0" y="0" transform="translate(12.6,277.8) rotate(-90) scale(0.882,1)" text-anchor="start" font-family="Liberation Sans, sans-serif" font-size="9.2" fill="#222222">Tilt (mm)</text>
<line x1="27.1" y1="183.5" x2="30.1" y2="183.5" stroke="#707070" stroke-width="1"/>
<text x="25.2" y="185.5" text-anchor="end" font-family="Liberation Serif, serif" font-size="6.8" fill="#404040" stroke="#404040" stroke-width="0.15">1.0</text>
<line x1="27.1" y1="205.87" x2="30.1" y2="205.87" stroke="#707070" stroke-width="1"/>
<text x="25.2" y="207.87" text-anchor="end" font-family="Liberation Serif, serif" font-size="6.8" fill="#404040" stroke="#404040" stroke-width="0.15">0.9</text>
<line x1="27.1" y1="228.24" x2="30.1" y2="228.24" stroke="#707070" stroke-width="1"/>
<text x="25.2" y="230.24" text-anchor="end" font-family="Liberation Serif, serif" font-size="6.8" fill="#404040" stroke="#404040" stroke-width="0.15">0.8</text>
<line x1="27.1" y1="250.61" x2="30.1" y2="250.61" stroke="#707070" stroke-width="1"/>
<text x="25.2" y="252.61" text-anchor="end" font-family="Liberation Serif, serif" font-size="6.8" fill="#404040" stroke="#404040" stroke-width="0.15">0.7</text>
<line x1="27.1" y1="272.99" x2="30.1" y2="272.99" stroke="#707070" stroke-width="1"/>
<text x="25.2" y="274.99" text-anchor="end" font-family="Liberation Serif, serif" font-size="6.8" fill="#404040" stroke="#404040" stroke-width="0.15">0.6</text>
<line x1="27.1" y1="295.36" x2="30.1" y2="295.36" stroke="#707070" stroke-width="1"/>
<text x="25.2" y="297.36" text-anchor="end" font-family="Liberation Serif, serif" font-size="6.8" fill="#404040" stroke="#404040" stroke-width="0.15">0.5</text>
<line x1="27.1" y1="317.73" x2="30.1" y2="317.73" stroke="#707070" stroke-width="1"/>
<text x="25.2" y="319.73" text-anchor="end" font-family="Liberation Serif, serif" font-size="6.8" fill="#404040" stroke="#404040" stroke-width="0.15">0.4</text>
<line x1="27.1" y1="340.1" x2="30.1" y2="340.1" stroke="#707070" stroke-width="1"/>
<text x="25.2" y="342.1" text-anchor="end" font-family="Liberation Serif, serif" font-size="6.8" fill="#404040" stroke="#404040" stroke-width="0.15">0.3</text>
<line x1="74.5" y1="340.1" x2="74.5" y2="343.7" stroke="#707070" stroke-width="1"/>
<rect x="73.2" y="346" width="2.6" height="0.8" fill="#555"/><rect x="73.2" y="351" width="2.6" height="1" fill="#2a2a2a"/><rect x="74" y="346" width="1" height="6" fill="#2a2a2a"/>
<line x1="134.5" y1="340.1" x2="134.5" y2="343.7" stroke="#707070" stroke-width="1"/>
<rect x="132.2" y="346" width="4.6" height="0.8" fill="#555"/><rect x="132.2" y="351" width="4.6" height="1" fill="#2a2a2a"/><rect x="133" y="346" width="1" height="6" fill="#2a2a2a"/><rect x="135" y="346" width="1" height="6" fill="#2a2a2a"/>
<line x1="194.5" y1="340.1" x2="194.5" y2="343.7" stroke="#707070" stroke-width="1"/>
<rect x="191.2" y="346" width="6.6" height="0.8" fill="#555"/><rect x="191.2" y="351" width="6.6" height="1" fill="#2a2a2a"/><rect x="192" y="346" width="1" height="6" fill="#2a2a2a"/><rect x="194" y="346" width="1" height="6" fill="#2a2a2a"/><rect x="196" y="346" width="1" height="6" fill="#2a2a2a"/>
<rect x="30.1" y="183.5" width="194.5" height="156.6" fill="none" stroke="#7a7a7a" stroke-width="1.2"/>
<text x="33.8" y="193.9" font-family="Liberation Serif, serif" font-weight="bold" font-size="8.3" fill="#202020">(d)</text>
<text x="0" y="0" transform="translate(65,222.1) scale(0.925,1)" text-anchor="end" font-family="Liberation Serif, serif" font-size="7.9" fill="#262626" stroke="#262626" stroke-width="0.16">0.84</text>
<text x="0" y="0" transform="translate(65,316.4) scale(0.925,1)" text-anchor="end" font-family="Liberation Serif, serif" font-size="7.9" fill="#262626" stroke="#262626" stroke-width="0.16">0.42</text>
<text x="0" y="0" transform="translate(59.5,259.6) scale(0.925,1)" text-anchor="end" font-family="Liberation Serif, serif" font-size="7.9" fill="#262626" stroke="#262626" stroke-width="0.16">0.67</text>
<path d="M65.5,219 H67.9 V313.3 H65.5" fill="none" stroke="#b4b4b4" stroke-width="1.05"/>
<rect x="59.5" y="231.2" width="8.4" height="73.5" fill="url(#g10)" stroke="#404040" stroke-width="0.8"/>
<line x1="59.5" y1="256.5" x2="67.9" y2="256.5" stroke="#383838" stroke-width="1.2"/>
<path d="M77.6,194.3 C78.1,197.45 79.43,206.7 80.6,213.2 C81.77,219.7 83.52,226.58 84.6,233.3 C85.68,240.02 86.6,247.2 87.1,253.5 C87.6,259.8 87.85,265.22 87.6,271.1 C87.35,276.98 86.35,283.33 85.6,288.8 C84.85,294.27 84.02,299.08 83.1,303.9 C82.18,308.72 80.6,315.4 80.1,317.7" fill="none" stroke="#f05858" stroke-width="0.8" stroke-dasharray="1.6,1.4" stroke-opacity="0.8"/>
<circle cx="75.3" cy="219" r="2.0" fill="url(#s32)"/>
<circle cx="79.7" cy="222" r="2.0" fill="url(#s33)"/>
<circle cx="75.3" cy="228.3" r="2.0" fill="url(#s34)"/>
<circle cx="79.7" cy="233.6" r="2.0" fill="url(#s35)"/>
<circle cx="75.3" cy="240.4" r="2.0" fill="url(#s36)"/>
<circle cx="79.7" cy="248.6" r="2.0" fill="url(#s37)"/>
<circle cx="75.3" cy="263.6" r="2.0" fill="url(#s38)"/>
<circle cx="75.3" cy="291.6" r="2.0" fill="url(#s39)"/>
<circle cx="75.3" cy="299.7" r="2.0" fill="url(#s40)"/>
<circle cx="75.3" cy="310" r="2.0" fill="url(#s36)"/>
<circle cx="79.5" cy="312.9" r="2.0" fill="url(#s32)"/>
<circle cx="84.1" cy="313.6" r="2.0" fill="url(#s33)"/>
<circle cx="67.9" cy="256.5" r="1.75" fill="#000"/>
<circle cx="67.7" cy="256.3" r="0.65" fill="#000000" fill-opacity="0.85"/>
<text x="0" y="0" transform="translate(124.7,222.1) scale(0.925,1)" text-anchor="end" font-family="Liberation Serif, serif" font-size="7.9" fill="#262626" stroke="#262626" stroke-width="0.16">0.84</text>
<text x="0" y="0" transform="translate(124.7,314) scale(0.925,1)" text-anchor="end" font-family="Liberation Serif, serif" font-size="7.9" fill="#262626" stroke="#262626" stroke-width="0.16">0.43</text>
<text x="0" y="0" transform="translate(119.3,267.6) scale(0.925,1)" text-anchor="end" font-family="Liberation Serif, serif" font-size="7.9" fill="#262626" stroke="#262626" stroke-width="0.16">0.64</text>
<path d="M125.2,219 H127.6 V310.9 H125.2" fill="none" stroke="#555555" stroke-width="1.05"/>
<rect x="119.3" y="228.6" width="8.3" height="78.8" fill="url(#g11)" stroke="#404040" stroke-width="0.8"/>
<line x1="119.3" y1="264.5" x2="127.6" y2="264.5" stroke="#383838" stroke-width="1.2"/>
<path d="M137.1,195 C137.68,198.03 139.35,206.82 140.6,213.2 C141.85,219.58 143.43,226.58 144.6,233.3 C145.77,240.02 147.02,247.2 147.6,253.5 C148.18,259.8 148.3,265.22 148.1,271.1 C147.9,276.98 147.1,283.33 146.4,288.8 C145.7,294.27 144.87,299.08 143.9,303.9 C142.93,308.72 141.15,315.4 140.6,317.7" fill="none" stroke="#5090d8" stroke-width="0.8" stroke-dasharray="1.6,1.4" stroke-opacity="0.8"/>
<circle cx="138.4" cy="218.7" r="2.0" fill="url(#s32)"/>
<circle cx="141.8" cy="222" r="2.0" fill="url(#s33)"/>
<circle cx="135.3" cy="224" r="2.0" fill="url(#s36)"/>
<circle cx="135.3" cy="232.9" r="2.0" fill="url(#s34)"/>
<circle cx="135.3" cy="248.7" r="2.0" fill="url(#s35)"/>
<circle cx="135.3" cy="253.9" r="2.0" fill="url(#s37)"/>
<circle cx="135.3" cy="275.7" r="2.0" fill="url(#s38)"/>
<circle cx="135.3" cy="295.8" r="2.0" fill="url(#s39)"/>
<circle cx="135.3" cy="308" r="2.0" fill="url(#s40)"/>
<circle cx="138.4" cy="310.9" r="2.0" fill="url(#s36)"/>
<circle cx="141.8" cy="310.9" r="2.0" fill="url(#s32)"/>
<circle cx="145" cy="307.9" r="2.0" fill="url(#s33)"/>
<circle cx="127.6" cy="264.5" r="1.75" fill="#000"/>
<circle cx="127.4" cy="264.3" r="0.65" fill="#000000" fill-opacity="0.85"/>
<text x="0" y="0" transform="translate(184.7,222.4) scale(0.925,1)" text-anchor="end" font-family="Liberation Serif, serif" font-size="7.9" fill="#262626" stroke="#262626" stroke-width="0.16">0.84</text>
<text x="0" y="0" transform="translate(184.7,317.9) scale(0.925,1)" text-anchor="end" font-family="Liberation Serif, serif" font-size="7.9" fill="#262626" stroke="#262626" stroke-width="0.16">0.41</text>
<text x="0" y="0" transform="translate(179.3,275.8) scale(0.925,1)" text-anchor="end" font-family="Liberation Serif, serif" font-size="7.9" fill="#262626" stroke="#262626" stroke-width="0.16">0.60</text>
<path d="M185.2,219.3 H187.6 V314.8 H185.2" fill="none" stroke="#555555" stroke-width="1.05"/>
<rect x="179.3" y="226.3" width="8.3" height="82.9" fill="url(#g12)" stroke="#404040" stroke-width="0.8"/>
<line x1="179.3" y1="272.7" x2="187.6" y2="272.7" stroke="#383838" stroke-width="1.2"/>
<path d="M197.1,194.3 C197.68,197.45 199.35,206.7 200.6,213.2 C201.85,219.7 203.52,226.58 204.6,233.3 C205.68,240.02 206.6,247.2 207.1,253.5 C207.6,259.8 207.72,265.22 207.6,271.1 C207.48,276.98 207.02,283.33 206.4,288.8 C205.78,294.27 204.75,299.08 203.9,303.9 C203.05,308.72 201.73,315.4 201.3,317.7" fill="none" stroke="#60c860" stroke-width="0.8" stroke-dasharray="1.6,1.4" stroke-opacity="0.8"/>
<circle cx="194.9" cy="220.3" r="2.0" fill="url(#s36)"/>
<circle cx="198.4" cy="219" r="2.0" fill="url(#s32)"/>
<circle cx="201.7" cy="220.9" r="2.0" fill="url(#s33)"/>
<circle cx="194.9" cy="231.8" r="2.0" fill="url(#s34)"/>
<circle cx="194.9" cy="241.7" r="2.0" fill="url(#s35)"/>
<circle cx="194.9" cy="261.8" r="2.0" fill="url(#s37)"/>
<circle cx="194.9" cy="283" r="2.0" fill="url(#s38)"/>
<circle cx="194.9" cy="297.1" r="2.0" fill="url(#s39)"/>
<circle cx="194.9" cy="310.7" r="2.0" fill="url(#s40)"/>
<circle cx="198.4" cy="312.2" r="2.0" fill="url(#s36)"/>
<circle cx="201.7" cy="314.5" r="2.0" fill="url(#s32)"/>
<circle cx="205" cy="308" r="2.0" fill="url(#s33)"/>
<circle cx="187.6" cy="272.7" r="1.75" fill="#000"/>
<circle cx="187.4" cy="272.5" r="0.65" fill="#000000" fill-opacity="0.85"/>
<text x="0" y="0" transform="translate(240.6,292) rotate(-90) scale(0.882,1)" text-anchor="start" font-family="Liberation Sans, sans-serif" font-size="9.2" fill="#222222">Seepage (L/min)</text>
<line x1="258.2" y1="183.5" x2="261.2" y2="183.5" stroke="#707070" stroke-width="1"/>
<text x="256.3" y="185.5" text-anchor="end" font-family="Liberation Serif, serif" font-size="6.8" fill="#404040" stroke="#404040" stroke-width="0.15">3.0</text>
<line x1="258.2" y1="203.07" x2="261.2" y2="203.07" stroke="#707070" stroke-width="1"/>
<text x="256.3" y="205.07" text-anchor="end" font-family="Liberation Serif, serif" font-size="6.8" fill="#404040" stroke="#404040" stroke-width="0.15">2.5</text>
<line x1="258.2" y1="222.65" x2="261.2" y2="222.65" stroke="#707070" stroke-width="1"/>
<text x="256.3" y="224.65" text-anchor="end" font-family="Liberation Serif, serif" font-size="6.8" fill="#404040" stroke="#404040" stroke-width="0.15">2.0</text>
<line x1="258.2" y1="242.23" x2="261.2" y2="242.23" stroke="#707070" stroke-width="1"/>
<text x="256.3" y="244.23" text-anchor="end" font-family="Liberation Serif, serif" font-size="6.8" fill="#404040" stroke="#404040" stroke-width="0.15">1.5</text>
<line x1="258.2" y1="261.8" x2="261.2" y2="261.8" stroke="#707070" stroke-width="1"/>
<text x="256.3" y="263.8" text-anchor="end" font-family="Liberation Serif, serif" font-size="6.8" fill="#404040" stroke="#404040" stroke-width="0.15">1.0</text>
<line x1="258.2" y1="281.38" x2="261.2" y2="281.38" stroke="#707070" stroke-width="1"/>
<text x="256.3" y="283.38" text-anchor="end" font-family="Liberation Serif, serif" font-size="6.8" fill="#404040" stroke="#404040" stroke-width="0.15">0.5</text>
<line x1="258.2" y1="300.95" x2="261.2" y2="300.95" stroke="#707070" stroke-width="1"/>
<text x="256.3" y="302.95" text-anchor="end" font-family="Liberation Serif, serif" font-size="6.8" fill="#404040" stroke="#404040" stroke-width="0.15">0.0</text>
<line x1="258.2" y1="320.53" x2="261.2" y2="320.53" stroke="#707070" stroke-width="1"/>
<text x="256.3" y="322.53" text-anchor="end" font-family="Liberation Serif, serif" font-size="6.8" fill="#404040" stroke="#404040" stroke-width="0.15">−0.5</text>
<line x1="258.2" y1="340.1" x2="261.2" y2="340.1" stroke="#707070" stroke-width="1"/>
<text x="256.3" y="342.1" text-anchor="end" font-family="Liberation Serif, serif" font-size="6.8" fill="#404040" stroke="#404040" stroke-width="0.15">−1.0</text>
<line x1="306.5" y1="340.1" x2="306.5" y2="343.7" stroke="#707070" stroke-width="1"/>
<rect x="304.2" y="346" width="2.6" height="0.8" fill="#555"/><rect x="304.2" y="351" width="2.6" height="1" fill="#2a2a2a"/><rect x="305" y="346" width="1" height="6" fill="#2a2a2a"/>
<line x1="365.5" y1="340.1" x2="365.5" y2="343.7" stroke="#707070" stroke-width="1"/>
<rect x="363.2" y="346" width="4.6" height="0.8" fill="#555"/><rect x="363.2" y="351" width="4.6" height="1" fill="#2a2a2a"/><rect x="364" y="346" width="1" height="6" fill="#2a2a2a"/><rect x="366" y="346" width="1" height="6" fill="#2a2a2a"/>
<line x1="425.5" y1="340.1" x2="425.5" y2="343.7" stroke="#707070" stroke-width="1"/>
<rect x="422.2" y="346" width="6.6" height="0.8" fill="#555"/><rect x="422.2" y="351" width="6.6" height="1" fill="#2a2a2a"/><rect x="423" y="346" width="1" height="6" fill="#2a2a2a"/><rect x="425" y="346" width="1" height="6" fill="#2a2a2a"/><rect x="427" y="346" width="1" height="6" fill="#2a2a2a"/>
<rect x="261.2" y="183.5" width="194.4" height="156.6" fill="none" stroke="#7a7a7a" stroke-width="1.2"/>
<text x="264.9" y="193.9" font-family="Liberation Serif, serif" font-weight="bold" font-size="8.3" fill="#202020">(e)</text>
<text x="0" y="0" transform="translate(295.8,222.3) scale(0.925,1)" text-anchor="end" font-family="Liberation Serif, serif" font-size="7.9" fill="#262626" stroke="#262626" stroke-width="0.16">2.09</text>
<text x="0" y="0" transform="translate(295.8,303.9) scale(0.925,1)" text-anchor="end" font-family="Liberation Serif, serif" font-size="7.9" fill="#262626" stroke="#262626" stroke-width="0.16">0.00</text>
<text x="0" y="0" transform="translate(290.4,273.4) scale(0.925,1)" text-anchor="end" font-family="Liberation Serif, serif" font-size="7.9" fill="#262626" stroke="#262626" stroke-width="0.16">0.78</text>
<path d="M296.3,219.2 H298.7 V300.8 H296.3" fill="none" stroke="#a8a8a8" stroke-width="1.05"/>
<rect x="290.4" y="234.9" width="8.3" height="49.8" fill="url(#g13)" stroke="#404040" stroke-width="0.8"/>
<line x1="290.4" y1="270.3" x2="298.7" y2="270.3" stroke="#383838" stroke-width="1.2"/>
<path d="M308,202.9 C308.62,206.15 310.6,217.12 311.7,222.4 C312.8,227.68 313.62,230.53 314.6,234.6 C315.58,238.67 316.87,242.73 317.6,246.8 C318.33,250.87 318.88,254.93 319,259 C319.12,263.07 318.82,267.13 318.3,271.2 C317.78,275.27 316.83,279.33 315.9,283.4 C314.97,287.47 313.65,291.53 312.7,295.6 C311.75,299.67 310.98,303.73 310.2,307.8 C309.42,311.87 308.37,317.97 308,320" fill="none" stroke="#30b090" stroke-width="0.8" stroke-dasharray="1.6,1.4" stroke-opacity="0.8"/>
<circle cx="306.6" cy="218.8" r="2.0" fill="url(#s41)"/>
<circle cx="306.6" cy="228.3" r="2.0" fill="url(#s42)"/>
<circle cx="309.7" cy="232.6" r="2.0" fill="url(#s43)"/>
<circle cx="316" cy="237.1" r="2.0" fill="url(#s44)"/>
<circle cx="312.8" cy="240.8" r="2.0" fill="url(#s45)"/>
<circle cx="309.7" cy="264.4" r="2.0" fill="url(#s46)"/>
<circle cx="313" cy="276.2" r="2.0" fill="url(#s7)"/>
<circle cx="306.6" cy="280.4" r="2.0" fill="url(#s47)"/>
<circle cx="312.8" cy="283.4" r="2.0" fill="url(#s47)"/>
<circle cx="306.6" cy="286.7" r="2.0" fill="url(#s7)"/>
<circle cx="309.7" cy="286.3" r="2.0" fill="url(#s44)"/>
<circle cx="316" cy="300.8" r="2.0" fill="url(#s48)"/>
<circle cx="298.7" cy="270.3" r="1.75" fill="#000"/>
<circle cx="298.5" cy="270.1" r="0.65" fill="#404050" fill-opacity="0.85"/>
<text x="0" y="0" transform="translate(355.8,229.8) scale(0.925,1)" text-anchor="end" font-family="Liberation Serif, serif" font-size="7.9" fill="#262626" stroke="#262626" stroke-width="0.16">1.90</text>
<text x="0" y="0" transform="translate(355.8,303.9) scale(0.925,1)" text-anchor="end" font-family="Liberation Serif, serif" font-size="7.9" fill="#262626" stroke="#262626" stroke-width="0.16">0.00</text>
<text x="0" y="0" transform="translate(350.4,264.9) scale(0.925,1)" text-anchor="end" font-family="Liberation Serif, serif" font-size="7.9" fill="#262626" stroke="#262626" stroke-width="0.16">1.00</text>
<path d="M356.3,226.7 H358.7 V300.8 H356.3" fill="none" stroke="#a8a8a8" stroke-width="1.05"/>
<rect x="350.4" y="240.5" width="8.3" height="47.1" fill="url(#g14)" stroke="#404040" stroke-width="0.8"/>
<line x1="350.4" y1="261.8" x2="358.7" y2="261.8" stroke="#383838" stroke-width="1.2"/>
<path d="M367.3,202.9 C367.92,206.15 369.78,217.12 371,222.4 C372.22,227.68 373.5,230.53 374.6,234.6 C375.7,238.67 376.87,242.33 377.6,246.8 C378.33,251.27 378.88,257.33 379,261.4 C379.12,265.47 378.82,267.53 378.3,271.2 C377.78,274.87 376.83,279.33 375.9,283.4 C374.97,287.47 373.65,291.53 372.7,295.6 C371.75,299.67 370.98,303.73 370.2,307.8 C369.42,311.87 368.37,317.97 368,320" fill="none" stroke="#f09060" stroke-width="0.8" stroke-dasharray="1.6,1.4" stroke-opacity="0.8"/>
<circle cx="366.2" cy="226.3" r="2.0" fill="url(#s41)"/>
<circle cx="369.5" cy="228" r="2.0" fill="url(#s42)"/>
<circle cx="372.8" cy="241.2" r="2.0" fill="url(#s43)"/>
<circle cx="376" cy="239.1" r="2.0" fill="url(#s45)"/>
<circle cx="369.5" cy="247.1" r="2.0" fill="url(#s7)"/>
<circle cx="366.4" cy="257.9" r="2.0" fill="url(#s46)"/>
<circle cx="366.4" cy="265.7" r="2.0" fill="url(#s7)"/>
<circle cx="369.5" cy="278.4" r="2.0" fill="url(#s44)"/>
<circle cx="369.5" cy="282.6" r="2.0" fill="url(#s44)"/>
<circle cx="366.4" cy="292.6" r="2.0" fill="url(#s47)"/>
<circle cx="372.8" cy="300.8" r="2.0" fill="url(#s47)"/>
<circle cx="376" cy="300.8" r="2.0" fill="url(#s48)"/>
<circle cx="358.7" cy="261.8" r="1.75" fill="#000"/>
<circle cx="358.5" cy="261.6" r="0.65" fill="#404050" fill-opacity="0.85"/>
<text x="0" y="0" transform="translate(415.8,229.4) scale(0.925,1)" text-anchor="end" font-family="Liberation Serif, serif" font-size="7.9" fill="#262626" stroke="#262626" stroke-width="0.16">1.92</text>
<text x="0" y="0" transform="translate(415.8,303.9) scale(0.925,1)" text-anchor="end" font-family="Liberation Serif, serif" font-size="7.9" fill="#262626" stroke="#262626" stroke-width="0.16">0.00</text>
<text x="0" y="0" transform="translate(410.4,257.7) scale(0.925,1)" text-anchor="end" font-family="Liberation Serif, serif" font-size="7.9" fill="#262626" stroke="#262626" stroke-width="0.16">1.17</text>
<path d="M416.3,226.3 H418.7 V300.8 H416.3" fill="none" stroke="#a8a8a8" stroke-width="1.05"/>
<rect x="410.4" y="237.8" width="8.3" height="53.8" fill="url(#g15)" stroke="#404040" stroke-width="0.8"/>
<line x1="410.4" y1="254.6" x2="418.7" y2="254.6" stroke="#383838" stroke-width="1.2"/>
<path d="M427.3,202.9 C428.03,206.15 430.4,217.12 431.7,222.4 C433,227.68 434,230.53 435.1,234.6 C436.2,238.67 437.65,243.15 438.3,246.8 C438.95,250.45 439.12,252.43 439,256.5 C438.88,260.57 438.25,266.72 437.6,271.2 C436.95,275.68 436,279.33 435.1,283.4 C434.2,287.47 433.08,291.53 432.2,295.6 C431.32,299.67 430.62,303.73 429.8,307.8 C428.98,311.87 427.72,317.97 427.3,320" fill="none" stroke="#9090e0" stroke-width="0.8" stroke-dasharray="1.6,1.4" stroke-opacity="0.8"/>
<circle cx="426.2" cy="225.9" r="2.0" fill="url(#s46)"/>
<circle cx="429.5" cy="228.6" r="2.0" fill="url(#s41)"/>
<circle cx="435.8" cy="235.3" r="2.0" fill="url(#s45)"/>
<circle cx="432.5" cy="239.5" r="2.0" fill="url(#s42)"/>
<circle cx="426.2" cy="244.5" r="2.0" fill="url(#s43)"/>
<circle cx="429.5" cy="251.3" r="2.0" fill="url(#s7)"/>
<circle cx="432.5" cy="258.6" r="2.0" fill="url(#s44)"/>
<circle cx="426.2" cy="266.8" r="2.0" fill="url(#s44)"/>
<circle cx="426.2" cy="287" r="2.0" fill="url(#s7)"/>
<circle cx="429.5" cy="297.2" r="2.0" fill="url(#s47)"/>
<circle cx="435.8" cy="296.6" r="2.0" fill="url(#s48)"/>
<circle cx="432.5" cy="300.8" r="2.0" fill="url(#s47)"/>
<circle cx="418.7" cy="254.6" r="1.75" fill="#000"/>
<circle cx="418.5" cy="254.4" r="0.65" fill="#404050" fill-opacity="0.85"/>
<text x="0" y="0" transform="translate(474.6,284.9) rotate(-90) scale(0.882,1)" text-anchor="start" font-family="Liberation Sans, sans-serif" font-size="9.2" fill="#222222">Stress (Mpa)</text>
<line x1="487.1" y1="183.5" x2="490.1" y2="183.5" stroke="#707070" stroke-width="1"/>
<text x="485.2" y="185.5" text-anchor="end" font-family="Liberation Serif, serif" font-size="6.8" fill="#404040" stroke="#404040" stroke-width="0.15">60</text>
<line x1="487.1" y1="209.6" x2="490.1" y2="209.6" stroke="#707070" stroke-width="1"/>
<text x="485.2" y="211.6" text-anchor="end" font-family="Liberation Serif, serif" font-size="6.8" fill="#404040" stroke="#404040" stroke-width="0.15">50</text>
<line x1="487.1" y1="235.7" x2="490.1" y2="235.7" stroke="#707070" stroke-width="1"/>
<text x="485.2" y="237.7" text-anchor="end" font-family="Liberation Serif, serif" font-size="6.8" fill="#404040" stroke="#404040" stroke-width="0.15">40</text>
<line x1="487.1" y1="261.8" x2="490.1" y2="261.8" stroke="#707070" stroke-width="1"/>
<text x="485.2" y="263.8" text-anchor="end" font-family="Liberation Serif, serif" font-size="6.8" fill="#404040" stroke="#404040" stroke-width="0.15">30</text>
<line x1="487.1" y1="287.9" x2="490.1" y2="287.9" stroke="#707070" stroke-width="1"/>
<text x="485.2" y="289.9" text-anchor="end" font-family="Liberation Serif, serif" font-size="6.8" fill="#404040" stroke="#404040" stroke-width="0.15">20</text>
<line x1="487.1" y1="314" x2="490.1" y2="314" stroke="#707070" stroke-width="1"/>
<text x="485.2" y="316" text-anchor="end" font-family="Liberation Serif, serif" font-size="6.8" fill="#404040" stroke="#404040" stroke-width="0.15">10</text>
<line x1="487.1" y1="340.1" x2="490.1" y2="340.1" stroke="#707070" stroke-width="1"/>
<text x="485.2" y="342.1" text-anchor="end" font-family="Liberation Serif, serif" font-size="6.8" fill="#404040" stroke="#404040" stroke-width="0.15">0</text>
<line x1="534.5" y1="340.1" x2="534.5" y2="343.7" stroke="#707070" stroke-width="1"/>
<rect x="533.2" y="346" width="2.6" height="0.8" fill="#555"/><rect x="533.2" y="351" width="2.6" height="1" fill="#2a2a2a"/><rect x="534" y="346" width="1" height="6" fill="#2a2a2a"/>
<line x1="594.5" y1="340.1" x2="594.5" y2="343.7" stroke="#707070" stroke-width="1"/>
<rect x="592.2" y="346" width="4.6" height="0.8" fill="#555"/><rect x="592.2" y="351" width="4.6" height="1" fill="#2a2a2a"/><rect x="593" y="346" width="1" height="6" fill="#2a2a2a"/><rect x="595" y="346" width="1" height="6" fill="#2a2a2a"/>
<line x1="654.5" y1="340.1" x2="654.5" y2="343.7" stroke="#707070" stroke-width="1"/>
<rect x="651.2" y="346" width="6.6" height="0.8" fill="#555"/><rect x="651.2" y="351" width="6.6" height="1" fill="#2a2a2a"/><rect x="652" y="346" width="1" height="6" fill="#2a2a2a"/><rect x="654" y="346" width="1" height="6" fill="#2a2a2a"/><rect x="656" y="346" width="1" height="6" fill="#2a2a2a"/>
<rect x="490.1" y="183.5" width="194.4" height="156.6" fill="none" stroke="#7a7a7a" stroke-width="1.2"/>
<text x="493.8" y="193.9" font-family="Liberation Serif, serif" font-weight="bold" font-size="8.3" fill="#202020">(f)</text>
<text x="0" y="0" transform="translate(524.7,224.3) scale(0.925,1)" text-anchor="end" font-family="Liberation Serif, serif" font-size="7.9" fill="#262626" stroke="#262626" stroke-width="0.16">45.54</text>
<text x="0" y="0" transform="translate(524.7,314.2) scale(0.925,1)" text-anchor="end" font-family="Liberation Serif, serif" font-size="7.9" fill="#262626" stroke="#262626" stroke-width="0.16">11.16</text>
<text x="0" y="0" transform="translate(519.3,261.1) scale(0.925,1)" text-anchor="end" font-family="Liberation Serif, serif" font-size="7.9" fill="#262626" stroke="#262626" stroke-width="0.16">31.34</text>
<path d="M525.2,221.2 H527.6 V311.1 H525.2" fill="none" stroke="#555555" stroke-width="1.05"/>
<rect x="519.3" y="251.3" width="8.3" height="28.2" fill="url(#g16)" stroke="#404040" stroke-width="0.8"/>
<line x1="519.3" y1="258" x2="527.6" y2="258" stroke="#383838" stroke-width="1.2"/>
<path d="M536.1,209.4 C536.5,211.92 537.57,219.95 538.5,224.5 C539.43,229.05 540.6,232.63 541.7,236.7 C542.8,240.77 544.2,245.23 545.1,248.9 C546,252.57 546.85,255.45 547.1,258.7 C547.35,261.95 547.1,264.75 546.6,268.4 C546.1,272.05 545.03,276.53 544.1,280.6 C543.17,284.67 542.05,288.33 541,292.8 C539.95,297.27 538.73,301.7 537.8,307.4 C536.87,313.1 535.8,323.73 535.4,327" fill="none" stroke="#98c8f0" stroke-width="0.8" stroke-dasharray="1.6,1.4" stroke-opacity="0.8"/>
<circle cx="535.3" cy="221" r="2.0" fill="url(#s49)"/>
<circle cx="535.3" cy="246" r="2.0" fill="url(#s50)"/>
<circle cx="543" cy="251" r="2.0" fill="url(#s51)"/>
<circle cx="535.3" cy="251.6" r="2.0" fill="url(#s52)"/>
<circle cx="537.5" cy="257" r="2.0" fill="url(#s53)"/>
<circle cx="540.4" cy="257" r="2.0" fill="url(#s54)"/>
<circle cx="545.4" cy="259.5" r="2.0" fill="url(#s55)"/>
<circle cx="535.3" cy="264.7" r="2.0" fill="url(#s56)"/>
<circle cx="535.3" cy="278.2" r="2.0" fill="url(#s57)"/>
<circle cx="537.9" cy="281.3" r="2.0" fill="url(#s58)"/>
<circle cx="540.5" cy="286.6" r="2.0" fill="url(#s59)"/>
<circle cx="535.3" cy="310.7" r="2.0" fill="url(#s60)"/>
<circle cx="527.6" cy="258" r="1.75" fill="#000"/>
<circle cx="527.4" cy="257.8" r="0.65" fill="#f08000" fill-opacity="0.85"/>
<text x="0" y="0" transform="translate(584.7,243) scale(0.925,1)" text-anchor="end" font-family="Liberation Serif, serif" font-size="7.9" fill="#262626" stroke="#262626" stroke-width="0.16">38.39</text>
<text x="0" y="0" transform="translate(584.7,316.7) scale(0.925,1)" text-anchor="end" font-family="Liberation Serif, serif" font-size="7.9" fill="#262626" stroke="#262626" stroke-width="0.16">10.12</text>
<text x="0" y="0" transform="translate(579.1,264) scale(0.925,1)" text-anchor="end" font-family="Liberation Serif, serif" font-size="7.9" fill="#262626" stroke="#262626" stroke-width="0.16">30.31</text>
<path d="M585.2,239.9 H587.6 V313.6 H585.2" fill="none" stroke="#555555" stroke-width="1.05"/>
<rect x="579.1" y="249.3" width="8.5" height="29.1" fill="url(#g17)" stroke="#404040" stroke-width="0.8"/>
<line x1="579.1" y1="260.9" x2="587.6" y2="260.9" stroke="#383838" stroke-width="1.2"/>
<path d="M595.4,209.4 C595.72,211.92 596.5,219.95 597.3,224.5 C598.1,229.05 599.07,232.63 600.2,236.7 C601.33,240.77 602.95,244.83 604.1,248.9 C605.25,252.97 606.68,257.43 607.1,261.1 C607.52,264.77 607.22,267.25 606.6,270.9 C605.98,274.55 604.47,278.95 603.4,283 C602.33,287.05 601.3,290.72 600.2,295.2 C599.1,299.68 597.6,304.6 596.8,309.9 C596,315.2 595.63,324.15 595.4,327" fill="none" stroke="#4898e0" stroke-width="0.8" stroke-dasharray="1.6,1.4" stroke-opacity="0.8"/>
<circle cx="594.9" cy="239.7" r="2.0" fill="url(#s57)"/>
<circle cx="599.2" cy="240.5" r="2.0" fill="url(#s49)"/>
<circle cx="603.7" cy="243.2" r="2.0" fill="url(#s52)"/>
<circle cx="594.9" cy="254.2" r="2.0" fill="url(#s50)"/>
<circle cx="599.2" cy="259.5" r="2.0" fill="url(#s53)"/>
<circle cx="603.7" cy="259.5" r="2.0" fill="url(#s54)"/>
<circle cx="594.9" cy="261.8" r="2.0" fill="url(#s51)"/>
<circle cx="599.2" cy="264.7" r="2.0" fill="url(#s55)"/>
<circle cx="603.7" cy="272.9" r="2.0" fill="url(#s56)"/>
<circle cx="594.9" cy="284.1" r="2.0" fill="url(#s58)"/>
<circle cx="594.9" cy="294.9" r="2.0" fill="url(#s59)"/>
<circle cx="594.9" cy="313.3" r="2.0" fill="url(#s60)"/>
<circle cx="587.6" cy="260.9" r="1.75" fill="#000"/>
<circle cx="587.4" cy="260.7" r="0.65" fill="#f08000" fill-opacity="0.85"/>
<text x="0" y="0" transform="translate(644.3,229.7) scale(0.925,1)" text-anchor="end" font-family="Liberation Serif, serif" font-size="7.9" fill="#262626" stroke="#262626" stroke-width="0.16">43.48</text>
<text x="0" y="0" transform="translate(644.3,322.6) scale(0.925,1)" text-anchor="end" font-family="Liberation Serif, serif" font-size="7.9" fill="#262626" stroke="#262626" stroke-width="0.16">7.91</text>
<text x="0" y="0" transform="translate(638.7,264.1) scale(0.925,1)" text-anchor="end" font-family="Liberation Serif, serif" font-size="7.9" fill="#262626" stroke="#262626" stroke-width="0.16">30.26</text>
<path d="M644.8,226.6 H647.2 V319.5 H644.8" fill="none" stroke="#555555" stroke-width="1.05"/>
<rect x="638.7" y="253" width="8.5" height="30.7" fill="url(#g18)" stroke="#404040" stroke-width="0.8"/>
<line x1="638.7" y1="261" x2="647.2" y2="261" stroke="#383838" stroke-width="1.2"/>
<path d="M655.4,209.4 C655.8,211.92 656.75,219.95 657.8,224.5 C658.85,229.05 660.48,232.63 661.7,236.7 C662.92,240.77 664.12,244.83 665.1,248.9 C666.08,252.97 667.27,257.43 667.6,261.1 C667.93,264.77 667.6,267.25 667.1,270.9 C666.6,274.55 665.5,278.95 664.6,283 C663.7,287.05 662.72,290.72 661.7,295.2 C660.68,299.68 659.43,304.6 658.5,309.9 C657.57,315.2 656.5,324.15 656.1,327" fill="none" stroke="#b8e098" stroke-width="0.8" stroke-dasharray="1.6,1.4" stroke-opacity="0.8"/>
<circle cx="654.7" cy="226.7" r="2.0" fill="url(#s57)"/>
<circle cx="654.7" cy="251.3" r="2.0" fill="url(#s49)"/>
<circle cx="662.6" cy="251" r="2.0" fill="url(#s53)"/>
<circle cx="657.4" cy="254.3" r="2.0" fill="url(#s50)"/>
<circle cx="660.4" cy="254.3" r="2.0" fill="url(#s52)"/>
<circle cx="665.3" cy="254" r="2.0" fill="url(#s54)"/>
<circle cx="654.7" cy="267.7" r="2.0" fill="url(#s51)"/>
<circle cx="654.7" cy="275.8" r="2.0" fill="url(#s55)"/>
<circle cx="657.4" cy="278.4" r="2.0" fill="url(#s56)"/>
<circle cx="657.4" cy="288.7" r="2.0" fill="url(#s60)"/>
<circle cx="654.7" cy="294.9" r="2.0" fill="url(#s58)"/>
<circle cx="654.7" cy="319.5" r="2.0" fill="url(#s59)"/>
<circle cx="647.2" cy="261" r="1.75" fill="#000"/>
<circle cx="647" cy="260.8" r="0.65" fill="#f08000" fill-opacity="0.85"/>
<text x="0" y="0" transform="translate(7.8,465) rotate(-90) scale(0.882,1)" text-anchor="start" font-family="Liberation Sans, sans-serif" font-size="9.2" fill="#222222">Loading (kN)</text>
<line x1="27.1" y1="363.7" x2="30.1" y2="363.7" stroke="#707070" stroke-width="1"/>
<text x="25.2" y="365.7" text-anchor="end" font-family="Liberation Serif, serif" font-size="6.8" fill="#404040" stroke="#404040" stroke-width="0.15">1445</text>
<line x1="27.1" y1="381.1" x2="30.1" y2="381.1" stroke="#707070" stroke-width="1"/>
<text x="25.2" y="383.1" text-anchor="end" font-family="Liberation Serif, serif" font-size="6.8" fill="#404040" stroke="#404040" stroke-width="0.15">1440</text>
<line x1="27.1" y1="398.5" x2="30.1" y2="398.5" stroke="#707070" stroke-width="1"/>
<text x="25.2" y="400.5" text-anchor="end" font-family="Liberation Serif, serif" font-size="6.8" fill="#404040" stroke="#404040" stroke-width="0.15">1435</text>
<line x1="27.1" y1="415.9" x2="30.1" y2="415.9" stroke="#707070" stroke-width="1"/>
<text x="25.2" y="417.9" text-anchor="end" font-family="Liberation Serif, serif" font-size="6.8" fill="#404040" stroke="#404040" stroke-width="0.15">1430</text>
<line x1="27.1" y1="433.3" x2="30.1" y2="433.3" stroke="#707070" stroke-width="1"/>
<text x="25.2" y="435.3" text-anchor="end" font-family="Liberation Serif, serif" font-size="6.8" fill="#404040" stroke="#404040" stroke-width="0.15">1425</text>
<line x1="27.1" y1="450.7" x2="30.1" y2="450.7" stroke="#707070" stroke-width="1"/>
<text x="25.2" y="452.7" text-anchor="end" font-family="Liberation Serif, serif" font-size="6.8" fill="#404040" stroke="#404040" stroke-width="0.15">1420</text>
<line x1="27.1" y1="468.1" x2="30.1" y2="468.1" stroke="#707070" stroke-width="1"/>
<text x="25.2" y="470.1" text-anchor="end" font-family="Liberation Serif, serif" font-size="6.8" fill="#404040" stroke="#404040" stroke-width="0.15">1415</text>
<line x1="27.1" y1="485.5" x2="30.1" y2="485.5" stroke="#707070" stroke-width="1"/>
<text x="25.2" y="487.5" text-anchor="end" font-family="Liberation Serif, serif" font-size="6.8" fill="#404040" stroke="#404040" stroke-width="0.15">1410</text>
<line x1="27.1" y1="502.9" x2="30.1" y2="502.9" stroke="#707070" stroke-width="1"/>
<text x="25.2" y="504.9" text-anchor="end" font-family="Liberation Serif, serif" font-size="6.8" fill="#404040" stroke="#404040" stroke-width="0.15">1405</text>
<line x1="27.1" y1="520.3" x2="30.1" y2="520.3" stroke="#707070" stroke-width="1"/>
<text x="25.2" y="522.3" text-anchor="end" font-family="Liberation Serif, serif" font-size="6.8" fill="#404040" stroke="#404040" stroke-width="0.15">1400</text>
<line x1="74.5" y1="520.3" x2="74.5" y2="523.9" stroke="#707070" stroke-width="1"/>
<rect x="73.2" y="526" width="2.6" height="0.8" fill="#555"/><rect x="73.2" y="531" width="2.6" height="1" fill="#2a2a2a"/><rect x="74" y="526" width="1" height="6" fill="#2a2a2a"/>
<line x1="134.5" y1="520.3" x2="134.5" y2="523.9" stroke="#707070" stroke-width="1"/>
<rect x="132.2" y="526" width="4.6" height="0.8" fill="#555"/><rect x="132.2" y="531" width="4.6" height="1" fill="#2a2a2a"/><rect x="133" y="526" width="1" height="6" fill="#2a2a2a"/><rect x="135" y="526" width="1" height="6" fill="#2a2a2a"/>
<line x1="194.5" y1="520.3" x2="194.5" y2="523.9" stroke="#707070" stroke-width="1"/>
<rect x="191.2" y="526" width="6.6" height="0.8" fill="#555"/><rect x="191.2" y="531" width="6.6" height="1" fill="#2a2a2a"/><rect x="192" y="526" width="1" height="6" fill="#2a2a2a"/><rect x="194" y="526" width="1" height="6" fill="#2a2a2a"/><rect x="196" y="526" width="1" height="6" fill="#2a2a2a"/>
<rect x="30.1" y="363.7" width="194.5" height="156.6" fill="none" stroke="#7a7a7a" stroke-width="1.2"/>
<text x="33.8" y="374.1" font-family="Liberation Serif, serif" font-weight="bold" font-size="8.3" fill="#202020">(g)</text>
<text x="0" y="0" transform="translate(65.4,450.1) scale(0.925,1)" text-anchor="end" font-family="Liberation Serif, serif" font-size="7.9" fill="#262626" stroke="#262626" stroke-width="0.16">1421.12</text>
<text x="0" y="0" transform="translate(65.4,502.7) scale(0.925,1)" text-anchor="end" font-family="Liberation Serif, serif" font-size="7.9" fill="#262626" stroke="#262626" stroke-width="0.16">1406.02</text>
<text x="0" y="0" transform="translate(60.4,470.1) scale(0.925,1)" text-anchor="end" font-family="Liberation Serif, serif" font-size="7.9" fill="#262626" stroke="#262626" stroke-width="0.16">1415.33</text>
<path d="M65.9,447 H68.3 V499.6 H65.9" fill="none" stroke="#555555" stroke-width="1.05"/>
<rect x="60.4" y="455.4" width="7.9" height="19.4" fill="url(#g19)" stroke="#404040" stroke-width="0.8"/>
<line x1="60.4" y1="467" x2="68.3" y2="467" stroke="#383838" stroke-width="1.2"/>
<path d="M75.3,419.4 C75.78,422.53 76.78,432.87 78.2,438.2 C79.62,443.53 82.23,447.33 83.8,451.4 C85.37,455.47 87.13,459.17 87.6,462.6 C88.07,466.03 87.38,468.87 86.6,472 C85.82,475.13 84.15,478.27 82.9,481.4 C81.65,484.53 80.27,487.67 79.1,490.8 C77.93,493.93 76.43,498.63 75.9,500.2" fill="none" stroke="#80c8f0" stroke-width="0.8" stroke-dasharray="1.6,1.4" stroke-opacity="0.8"/>
<circle cx="75.3" cy="450.5" r="2.0" fill="url(#s61)"/>
<circle cx="78.4" cy="447.9" r="2.0" fill="url(#s62)"/>
<circle cx="81.4" cy="446.8" r="2.0" fill="url(#s63)"/>
<circle cx="84.5" cy="460.3" r="2.0" fill="url(#s64)"/>
<circle cx="78.4" cy="463.9" r="2.0" fill="url(#s65)"/>
<circle cx="75.3" cy="466.6" r="2.0" fill="url(#s66)"/>
<circle cx="81.4" cy="467.2" r="2.0" fill="url(#s67)"/>
<circle cx="75.3" cy="470.3" r="2.0" fill="url(#s68)"/>
<circle cx="78.4" cy="474.6" r="2.0" fill="url(#s69)"/>
<circle cx="84.5" cy="474.6" r="2.0" fill="url(#s70)"/>
<circle cx="81.4" cy="477.4" r="2.0" fill="url(#s71)"/>
<circle cx="75.3" cy="499.5" r="2.0" fill="url(#s72)"/>
<circle cx="68.3" cy="467" r="1.75" fill="#000"/>
<circle cx="68.1" cy="466.8" r="0.65" fill="#200020" fill-opacity="0.85"/>
<text x="0" y="0" transform="translate(125.4,448.8) scale(0.925,1)" text-anchor="end" font-family="Liberation Serif, serif" font-size="7.9" fill="#262626" stroke="#262626" stroke-width="0.16">1421.50</text>
<text x="0" y="0" transform="translate(125.4,493.9) scale(0.925,1)" text-anchor="end" font-family="Liberation Serif, serif" font-size="7.9" fill="#262626" stroke="#262626" stroke-width="0.16">1408.51</text>
<text x="0" y="0" transform="translate(120.4,465.1) scale(0.925,1)" text-anchor="end" font-family="Liberation Serif, serif" font-size="7.9" fill="#262626" stroke="#262626" stroke-width="0.16">1416.77</text>
<path d="M125.9,445.7 H128.3 V490.8 H125.9" fill="none" stroke="#555555" stroke-width="1.05"/>
<rect x="120.4" y="451.4" width="7.9" height="21.8" fill="url(#g20)" stroke="#404040" stroke-width="0.8"/>
<line x1="120.4" y1="462" x2="128.3" y2="462" stroke="#383838" stroke-width="1.2"/>
<path d="M135.1,380.1 C135.32,383.47 135.77,394.4 136.4,400.3 C137.03,406.2 137.85,410.43 138.9,415.5 C139.95,420.57 141.55,425.63 142.7,430.7 C143.85,435.77 145.17,441.27 145.8,445.9 C146.43,450.53 146.58,454.28 146.5,458.5 C146.42,462.72 145.85,467.4 145.3,471.2 C144.75,475 144.13,477.5 143.2,481.3 C142.27,485.1 140.7,490.2 139.7,494 C138.7,497.8 137.62,502.42 137.2,504.1" fill="none" stroke="#60c0f0" stroke-width="0.8" stroke-dasharray="1.6,1.4" stroke-opacity="0.8"/>
<circle cx="138.4" cy="445.5" r="2.0" fill="url(#s63)"/>
<circle cx="135.3" cy="448.2" r="2.0" fill="url(#s61)"/>
<circle cx="138.4" cy="454.7" r="2.0" fill="url(#s70)"/>
<circle cx="135.3" cy="458.7" r="2.0" fill="url(#s66)"/>
<circle cx="141.4" cy="460.9" r="2.0" fill="url(#s64)"/>
<circle cx="144.5" cy="463.6" r="2.0" fill="url(#s73)"/>
<circle cx="135.3" cy="468.6" r="2.0" fill="url(#s65)"/>
<circle cx="141.4" cy="472.1" r="2.0" fill="url(#s68)"/>
<circle cx="138.4" cy="473.8" r="2.0" fill="url(#s67)"/>
<circle cx="144.5" cy="479.3" r="2.0" fill="url(#s71)"/>
<circle cx="135.3" cy="490.8" r="2.0" fill="url(#s72)"/>
<circle cx="135.3" cy="390" r="2.0" fill="url(#s69)"/>
<circle cx="128.3" cy="462" r="1.75" fill="#000"/>
<circle cx="128.1" cy="461.8" r="0.65" fill="#200020" fill-opacity="0.85"/>
<polygon points="127.9,386.9 128.72,388.87 130.85,389.04 129.23,390.43 129.72,392.51 127.9,391.39 126.08,392.51 126.57,390.43 124.95,389.04 127.08,388.87" fill="#f57a10"/>
<line x1="136.9" y1="389" x2="142.4" y2="385.8" stroke="#f08020" stroke-width="0.8"/>
<polygon points="143.4,385.1 141.8,387.47 140.55,385.42" fill="#f08020"/>
<text x="0" y="0" transform="translate(144,388.2) scale(0.9,1)" font-family="Liberation Serif, serif" font-weight="bold" font-size="7.8" fill="#1a1a1a" stroke="#1a1a1a" stroke-width="0.28">1437.55</text>
<text x="0" y="0" transform="translate(185.3,449.7) scale(0.925,1)" text-anchor="end" font-family="Liberation Serif, serif" font-size="7.9" fill="#262626" stroke="#262626" stroke-width="0.16">1421.25</text>
<text x="0" y="0" transform="translate(185.3,482.7) scale(0.925,1)" text-anchor="end" font-family="Liberation Serif, serif" font-size="7.9" fill="#262626" stroke="#262626" stroke-width="0.16">1411.73</text>
<text x="0" y="0" transform="translate(180.4,469.7) scale(0.925,1)" text-anchor="end" font-family="Liberation Serif, serif" font-size="7.9" fill="#262626" stroke="#262626" stroke-width="0.16">1415.45</text>
<path d="M185.8,446.6 H188.2 V479.6 H185.8" fill="none" stroke="#555555" stroke-width="1.05"/>
<rect x="180.4" y="450.4" width="7.8" height="24.1" fill="url(#g21)" stroke="#404040" stroke-width="0.8"/>
<line x1="180.4" y1="466.6" x2="188.2" y2="466.6" stroke="#383838" stroke-width="1.2"/>
<path d="M194.8,423 C195.02,424.65 195.42,429.77 196.1,432.9 C196.78,436.03 197.77,438.83 198.9,441.8 C200.03,444.77 201.58,447.43 202.9,450.7 C204.22,453.97 206.27,458.42 206.8,461.4 C207.33,464.38 206.75,465.92 206.1,468.6 C205.45,471.28 204.18,474.53 202.9,477.5 C201.62,480.47 199.75,482.23 198.4,486.4 C197.05,490.57 195.4,499.82 194.8,502.5" fill="none" stroke="#f0a0c0" stroke-width="0.8" stroke-dasharray="1.6,1.4" stroke-opacity="0.8"/>
<circle cx="197.4" cy="446.2" r="2.0" fill="url(#s61)"/>
<circle cx="195.1" cy="449.2" r="2.0" fill="url(#s70)"/>
<circle cx="200" cy="448.4" r="2.0" fill="url(#s63)"/>
<circle cx="202.6" cy="451" r="2.0" fill="url(#s73)"/>
<circle cx="200" cy="456.3" r="2.0" fill="url(#s64)"/>
<circle cx="195.1" cy="466.3" r="2.0" fill="url(#s66)"/>
<circle cx="197.4" cy="466.8" r="2.0" fill="url(#s65)"/>
<circle cx="200" cy="473.2" r="2.0" fill="url(#s68)"/>
<circle cx="197.4" cy="473.6" r="2.0" fill="url(#s67)"/>
<circle cx="195.1" cy="475.8" r="2.0" fill="url(#s72)"/>
<circle cx="202.1" cy="476.7" r="2.0" fill="url(#s69)"/>
<circle cx="204.7" cy="479.5" r="2.0" fill="url(#s71)"/>
<circle cx="188.2" cy="466.6" r="1.75" fill="#000"/>
<circle cx="188" cy="466.4" r="0.65" fill="#200020" fill-opacity="0.85"/>
<text x="0" y="0" transform="translate(237.2,484.8) rotate(-90) scale(0.882,1)" text-anchor="start" font-family="Liberation Sans, sans-serif" font-size="9.2" fill="#222222">Soil-displacement (mm)</text>
<line x1="258.2" y1="363.7" x2="261.2" y2="363.7" stroke="#707070" stroke-width="1"/>
<text x="256.3" y="365.7" text-anchor="end" font-family="Liberation Serif, serif" font-size="6.8" fill="#404040" stroke="#404040" stroke-width="0.15">−27.0</text>
<line x1="258.2" y1="389.8" x2="261.2" y2="389.8" stroke="#707070" stroke-width="1"/>
<text x="256.3" y="391.8" text-anchor="end" font-family="Liberation Serif, serif" font-size="6.8" fill="#404040" stroke="#404040" stroke-width="0.15">−27.5</text>
<line x1="258.2" y1="415.9" x2="261.2" y2="415.9" stroke="#707070" stroke-width="1"/>
<text x="256.3" y="417.9" text-anchor="end" font-family="Liberation Serif, serif" font-size="6.8" fill="#404040" stroke="#404040" stroke-width="0.15">−28.0</text>
<line x1="258.2" y1="442" x2="261.2" y2="442" stroke="#707070" stroke-width="1"/>
<text x="256.3" y="444" text-anchor="end" font-family="Liberation Serif, serif" font-size="6.8" fill="#404040" stroke="#404040" stroke-width="0.15">−28.5</text>
<line x1="258.2" y1="468.1" x2="261.2" y2="468.1" stroke="#707070" stroke-width="1"/>
<text x="256.3" y="470.1" text-anchor="end" font-family="Liberation Serif, serif" font-size="6.8" fill="#404040" stroke="#404040" stroke-width="0.15">−29.0</text>
<line x1="258.2" y1="494.2" x2="261.2" y2="494.2" stroke="#707070" stroke-width="1"/>
<text x="256.3" y="496.2" text-anchor="end" font-family="Liberation Serif, serif" font-size="6.8" fill="#404040" stroke="#404040" stroke-width="0.15">−29.5</text>
<line x1="258.2" y1="520.3" x2="261.2" y2="520.3" stroke="#707070" stroke-width="1"/>
<text x="256.3" y="522.3" text-anchor="end" font-family="Liberation Serif, serif" font-size="6.8" fill="#404040" stroke="#404040" stroke-width="0.15">−30.0</text>
<line x1="306.5" y1="520.3" x2="306.5" y2="523.9" stroke="#707070" stroke-width="1"/>
<rect x="304.2" y="526" width="2.6" height="0.8" fill="#555"/><rect x="304.2" y="531" width="2.6" height="1" fill="#2a2a2a"/><rect x="305" y="526" width="1" height="6" fill="#2a2a2a"/>
<line x1="365.5" y1="520.3" x2="365.5" y2="523.9" stroke="#707070" stroke-width="1"/>
<rect x="363.2" y="526" width="4.6" height="0.8" fill="#555"/><rect x="363.2" y="531" width="4.6" height="1" fill="#2a2a2a"/><rect x="364" y="526" width="1" height="6" fill="#2a2a2a"/><rect x="366" y="526" width="1" height="6" fill="#2a2a2a"/>
<line x1="425.5" y1="520.3" x2="425.5" y2="523.9" stroke="#707070" stroke-width="1"/>
<rect x="422.2" y="526" width="6.6" height="0.8" fill="#555"/><rect x="422.2" y="531" width="6.6" height="1" fill="#2a2a2a"/><rect x="423" y="526" width="1" height="6" fill="#2a2a2a"/><rect x="425" y="526" width="1" height="6" fill="#2a2a2a"/><rect x="427" y="526" width="1" height="6" fill="#2a2a2a"/>
<rect x="261.2" y="363.7" width="194.4" height="156.6" fill="none" stroke="#7a7a7a" stroke-width="1.2"/>
<text x="264.9" y="374.1" font-family="Liberation Serif, serif" font-weight="bold" font-size="8.3" fill="#202020">(h)</text>
<text x="0" y="0" transform="translate(296,403) scale(0.925,1)" text-anchor="end" font-family="Liberation Serif, serif" font-size="7.9" fill="#262626" stroke="#262626" stroke-width="0.16">-27.68</text>
<text x="0" y="0" transform="translate(296,489.6) scale(0.925,1)" text-anchor="end" font-family="Liberation Serif, serif" font-size="7.9" fill="#262626" stroke="#262626" stroke-width="0.16">-29.35</text>
<text x="0" y="0" transform="translate(290.4,472.7) scale(0.925,1)" text-anchor="end" font-family="Liberation Serif, serif" font-size="7.9" fill="#262626" stroke="#262626" stroke-width="0.16">-29.03</text>
<path d="M296.5,399.9 H298.9 V486.5 H296.5" fill="none" stroke="#b0b0b0" stroke-width="1.05"/>
<rect x="290.4" y="408.2" width="8.5" height="69.8" fill="url(#g22)" stroke="#404040" stroke-width="0.8"/>
<line x1="290.4" y1="469.6" x2="298.9" y2="469.6" stroke="#383838" stroke-width="1.2"/>
<path d="M310.4,395.4 C310.9,398.1 312.33,406.38 313.4,411.6 C314.47,416.82 315.87,421.67 316.8,426.7 C317.73,431.73 318.63,437.12 319,441.8 C319.37,446.48 319.28,450.47 319,454.8 C318.72,459.13 318.02,463.48 317.3,467.8 C316.58,472.12 315.6,475.48 314.7,480.7 C313.8,485.92 312.37,496.03 311.9,499.1" fill="none" stroke="#ff6060" stroke-width="0.8" stroke-dasharray="1.6,1.4" stroke-opacity="0.8"/>
<circle cx="306.4" cy="399.5" r="2.0" fill="url(#s74)"/>
<circle cx="311" cy="399.5" r="2.0" fill="url(#s75)"/>
<circle cx="306.4" cy="406.2" r="2.0" fill="url(#s76)"/>
<circle cx="311" cy="409.5" r="2.0" fill="url(#s77)"/>
<circle cx="306.4" cy="466.2" r="2.0" fill="url(#s78)"/>
<circle cx="311" cy="466.2" r="2.0" fill="url(#s76)"/>
<circle cx="306.4" cy="473" r="2.0" fill="url(#s79)"/>
<circle cx="315" cy="473" r="2.0" fill="url(#s77)"/>
<circle cx="311" cy="476.3" r="2.0" fill="url(#s74)"/>
<circle cx="315" cy="479.6" r="2.0" fill="url(#s80)"/>
<circle cx="306.4" cy="482.9" r="2.0" fill="url(#s81)"/>
<circle cx="311" cy="486.2" r="2.0" fill="url(#s75)"/>
<circle cx="298.9" cy="469.6" r="1.75" fill="#000"/>
<circle cx="298.7" cy="469.4" r="0.65" fill="#00a000" fill-opacity="0.85"/>
<text x="0" y="0" transform="translate(355.8,403) scale(0.925,1)" text-anchor="end" font-family="Liberation Serif, serif" font-size="7.9" fill="#262626" stroke="#262626" stroke-width="0.16">-27.68</text>
<text x="0" y="0" transform="translate(355.8,489.6) scale(0.925,1)" text-anchor="end" font-family="Liberation Serif, serif" font-size="7.9" fill="#262626" stroke="#262626" stroke-width="0.16">-29.35</text>
<text x="0" y="0" transform="translate(350.4,475.9) scale(0.925,1)" text-anchor="end" font-family="Liberation Serif, serif" font-size="7.9" fill="#262626" stroke="#262626" stroke-width="0.16">-29.09</text>
<path d="M356.3,399.9 H358.7 V486.5 H356.3" fill="none" stroke="#b0b0b0" stroke-width="1.05"/>
<rect x="350.4" y="409.7" width="8.3" height="63.1" fill="url(#g23)" stroke="#404040" stroke-width="0.8"/>
<line x1="350.4" y1="472.8" x2="358.7" y2="472.8" stroke="#383838" stroke-width="1.2"/>
<path d="M370.4,396 C370.9,398.6 372.33,406.48 373.4,411.6 C374.47,416.72 375.87,421.67 376.8,426.7 C377.73,431.73 378.63,437.12 379,441.8 C379.37,446.48 379.22,450.47 379,454.8 C378.78,459.13 378.35,463.48 377.7,467.8 C377.05,472.12 376.07,475.48 375.1,480.7 C374.13,485.92 372.43,496.03 371.9,499.1" fill="none" stroke="#ff9060" stroke-width="0.8" stroke-dasharray="1.6,1.4" stroke-opacity="0.8"/>
<circle cx="366.4" cy="399.5" r="2.0" fill="url(#s74)"/>
<circle cx="369.1" cy="402.9" r="2.0" fill="url(#s77)"/>
<circle cx="366.2" cy="409.5" r="2.0" fill="url(#s76)"/>
<circle cx="369.1" cy="409.5" r="2.0" fill="url(#s75)"/>
<circle cx="366.4" cy="456.2" r="2.0" fill="url(#s78)"/>
<circle cx="366.2" cy="473" r="2.0" fill="url(#s79)"/>
<circle cx="369.1" cy="473" r="2.0" fill="url(#s74)"/>
<circle cx="371.6" cy="473" r="2.0" fill="url(#s76)"/>
<circle cx="374.3" cy="473" r="2.0" fill="url(#s75)"/>
<circle cx="377" cy="473" r="2.0" fill="url(#s80)"/>
<circle cx="366.2" cy="486.2" r="2.0" fill="url(#s81)"/>
<circle cx="369.1" cy="486.2" r="2.0" fill="url(#s77)"/>
<circle cx="358.7" cy="472.8" r="1.75" fill="#000"/>
<circle cx="358.5" cy="472.6" r="0.65" fill="#00a000" fill-opacity="0.85"/>
<text x="0" y="0" transform="translate(415.8,403) scale(0.925,1)" text-anchor="end" font-family="Liberation Serif, serif" font-size="7.9" fill="#262626" stroke="#262626" stroke-width="0.16">-27.68</text>
<text x="0" y="0" transform="translate(415.8,492.6) scale(0.925,1)" text-anchor="end" font-family="Liberation Serif, serif" font-size="7.9" fill="#262626" stroke="#262626" stroke-width="0.16">-29.41</text>
<text x="0" y="0" transform="translate(410.4,474.3) scale(0.925,1)" text-anchor="end" font-family="Liberation Serif, serif" font-size="7.9" fill="#262626" stroke="#262626" stroke-width="0.16">-29.06</text>
<path d="M416.3,399.9 H418.7 V489.5 H416.3" fill="none" stroke="#b0b0b0" stroke-width="1.05"/>
<rect x="410.4" y="416.6" width="8.3" height="62.6" fill="url(#g24)" stroke="#404040" stroke-width="0.8"/>
<line x1="410.4" y1="471.2" x2="418.7" y2="471.2" stroke="#383838" stroke-width="1.2"/>
<path d="M428.6,395.4 C429.15,398.1 430.73,406.38 431.9,411.6 C433.07,416.82 434.52,421.67 435.6,426.7 C436.68,431.73 437.93,437.12 438.4,441.8 C438.87,446.48 438.67,450.47 438.4,454.8 C438.13,459.13 437.42,463.48 436.8,467.8 C436.18,472.12 435.63,475.48 434.7,480.7 C433.77,485.92 431.78,496.03 431.2,499.1" fill="none" stroke="#f8e060" stroke-width="0.8" stroke-dasharray="1.6,1.4" stroke-opacity="0.8"/>
<circle cx="426.4" cy="399.5" r="2.0" fill="url(#s77)"/>
<circle cx="426.2" cy="412.6" r="2.0" fill="url(#s75)"/>
<circle cx="426.2" cy="416.3" r="2.0" fill="url(#s74)"/>
<circle cx="430.5" cy="416.3" r="2.0" fill="url(#s76)"/>
<circle cx="426.2" cy="459.3" r="2.0" fill="url(#s78)"/>
<circle cx="426.2" cy="469.5" r="2.0" fill="url(#s74)"/>
<circle cx="430.5" cy="473" r="2.0" fill="url(#s76)"/>
<circle cx="434.7" cy="473" r="2.0" fill="url(#s75)"/>
<circle cx="426.2" cy="479.6" r="2.0" fill="url(#s81)"/>
<circle cx="430.5" cy="479.6" r="2.0" fill="url(#s79)"/>
<circle cx="434.7" cy="479.6" r="2.0" fill="url(#s80)"/>
<circle cx="426.2" cy="489.5" r="2.0" fill="url(#s77)"/>
<circle cx="418.7" cy="471.2" r="1.75" fill="#000"/>
<circle cx="418.5" cy="471" r="0.65" fill="#00a000" fill-opacity="0.85"/>
<text x="0" y="0" transform="translate(468.9,469.7) rotate(-90) scale(0.882,1)" text-anchor="start" font-family="Liberation Sans, sans-serif" font-size="9.2" fill="#222222">Water-level (m)</text>
<line x1="487.1" y1="363.7" x2="490.1" y2="363.7" stroke="#707070" stroke-width="1"/>
<text x="485.2" y="365.7" text-anchor="end" font-family="Liberation Serif, serif" font-size="6.8" fill="#404040" stroke="#404040" stroke-width="0.15">25.8</text>
<line x1="487.1" y1="381.1" x2="490.1" y2="381.1" stroke="#707070" stroke-width="1"/>
<text x="485.2" y="383.1" text-anchor="end" font-family="Liberation Serif, serif" font-size="6.8" fill="#404040" stroke="#404040" stroke-width="0.15">25.6</text>
<line x1="487.1" y1="398.5" x2="490.1" y2="398.5" stroke="#707070" stroke-width="1"/>
<text x="485.2" y="400.5" text-anchor="end" font-family="Liberation Serif, serif" font-size="6.8" fill="#404040" stroke="#404040" stroke-width="0.15">25.4</text>
<line x1="487.1" y1="415.9" x2="490.1" y2="415.9" stroke="#707070" stroke-width="1"/>
<text x="485.2" y="417.9" text-anchor="end" font-family="Liberation Serif, serif" font-size="6.8" fill="#404040" stroke="#404040" stroke-width="0.15">25.2</text>
<line x1="487.1" y1="433.3" x2="490.1" y2="433.3" stroke="#707070" stroke-width="1"/>
<text x="485.2" y="435.3" text-anchor="end" font-family="Liberation Serif, serif" font-size="6.8" fill="#404040" stroke="#404040" stroke-width="0.15">25.0</text>
<line x1="487.1" y1="450.7" x2="490.1" y2="450.7" stroke="#707070" stroke-width="1"/>
<text x="485.2" y="452.7" text-anchor="end" font-family="Liberation Serif, serif" font-size="6.8" fill="#404040" stroke="#404040" stroke-width="0.15">24.8</text>
<line x1="487.1" y1="468.1" x2="490.1" y2="468.1" stroke="#707070" stroke-width="1"/>
<text x="485.2" y="470.1" text-anchor="end" font-family="Liberation Serif, serif" font-size="6.8" fill="#404040" stroke="#404040" stroke-width="0.15">24.6</text>
<line x1="487.1" y1="485.5" x2="490.1" y2="485.5" stroke="#707070" stroke-width="1"/>
<text x="485.2" y="487.5" text-anchor="end" font-family="Liberation Serif, serif" font-size="6.8" fill="#404040" stroke="#404040" stroke-width="0.15">24.4</text>
<line x1="487.1" y1="502.9" x2="490.1" y2="502.9" stroke="#707070" stroke-width="1"/>
<text x="485.2" y="504.9" text-anchor="end" font-family="Liberation Serif, serif" font-size="6.8" fill="#404040" stroke="#404040" stroke-width="0.15">24.2</text>
<line x1="487.1" y1="520.3" x2="490.1" y2="520.3" stroke="#707070" stroke-width="1"/>
<text x="485.2" y="522.3" text-anchor="end" font-family="Liberation Serif, serif" font-size="6.8" fill="#404040" stroke="#404040" stroke-width="0.15">24.0</text>
<line x1="534.5" y1="520.3" x2="534.5" y2="523.9" stroke="#707070" stroke-width="1"/>
<rect x="533.2" y="526" width="2.6" height="0.8" fill="#555"/><rect x="533.2" y="531" width="2.6" height="1" fill="#2a2a2a"/><rect x="534" y="526" width="1" height="6" fill="#2a2a2a"/>
<line x1="594.5" y1="520.3" x2="594.5" y2="523.9" stroke="#707070" stroke-width="1"/>
<rect x="592.2" y="526" width="4.6" height="0.8" fill="#555"/><rect x="592.2" y="531" width="4.6" height="1" fill="#2a2a2a"/><rect x="593" y="526" width="1" height="6" fill="#2a2a2a"/><rect x="595" y="526" width="1" height="6" fill="#2a2a2a"/>
<line x1="654.5" y1="520.3" x2="654.5" y2="523.9" stroke="#707070" stroke-width="1"/>
<rect x="651.2" y="526" width="6.6" height="0.8" fill="#555"/><rect x="651.2" y="531" width="6.6" height="1" fill="#2a2a2a"/><rect x="652" y="526" width="1" height="6" fill="#2a2a2a"/><rect x="654" y="526" width="1" height="6" fill="#2a2a2a"/><rect x="656" y="526" width="1" height="6" fill="#2a2a2a"/>
<rect x="490.1" y="363.7" width="194.4" height="156.6" fill="none" stroke="#7a7a7a" stroke-width="1.2"/>
<text x="493.8" y="374.1" font-family="Liberation Serif, serif" font-weight="bold" font-size="8.3" fill="#202020">(i)</text>
<text x="0" y="0" transform="translate(524.7,395.6) scale(0.925,1)" text-anchor="end" font-family="Liberation Serif, serif" font-size="7.9" fill="#262626" stroke="#262626" stroke-width="0.16">25.47</text>
<text x="0" y="0" transform="translate(524.7,444.9) scale(0.925,1)" text-anchor="end" font-family="Liberation Serif, serif" font-size="7.9" fill="#262626" stroke="#262626" stroke-width="0.16">24.90</text>
<text x="0" y="0" transform="translate(519.3,428.8) scale(0.925,1)" text-anchor="end" font-family="Liberation Serif, serif" font-size="7.9" fill="#262626" stroke="#262626" stroke-width="0.16">25.09</text>
<path d="M525.2,392.5 H527.6 V441.8 H525.2" fill="none" stroke="#5a5a5a" stroke-width="1.05"/>
<rect x="519.3" y="403.9" width="8.3" height="30.3" fill="url(#g25)" stroke="#404040" stroke-width="0.8"/>
<line x1="519.3" y1="425.7" x2="527.6" y2="425.7" stroke="#383838" stroke-width="1.2"/>
<path d="M538.4,381.7 C539.22,384.75 541.8,394.52 543.3,400 C544.8,405.48 546.5,410.13 547.4,414.6 C548.3,419.07 548.77,422.33 548.7,426.8 C548.63,431.27 547.78,436.53 547,441.4 C546.22,446.27 545.15,451.12 544,456 C542.85,460.88 541.32,465.82 540.1,470.7 C538.88,475.58 537.52,479.98 536.7,485.3 C535.88,490.62 535.45,499.72 535.2,502.6" fill="none" stroke="#f060c0" stroke-width="0.8" stroke-dasharray="1.6,1.4" stroke-opacity="0.8"/>
<circle cx="537.8" cy="392.5" r="2.0" fill="url(#s71)"/>
<circle cx="540.4" cy="396.1" r="2.0" fill="url(#s82)"/>
<circle cx="535.3" cy="398.4" r="2.0" fill="url(#s83)"/>
<circle cx="535.3" cy="408.9" r="2.0" fill="url(#s84)"/>
<circle cx="542.8" cy="419.7" r="2.0" fill="url(#s85)"/>
<circle cx="545.4" cy="422.1" r="2.0" fill="url(#s86)"/>
<circle cx="540.4" cy="429.3" r="2.0" fill="url(#s87)"/>
<circle cx="535.3" cy="432" r="2.0" fill="url(#s88)"/>
<circle cx="537.8" cy="432.6" r="2.0" fill="url(#s89)"/>
<circle cx="535.3" cy="436.8" r="2.0" fill="url(#s90)"/>
<circle cx="537.8" cy="441.8" r="2.0" fill="url(#s91)"/>
<circle cx="535.3" cy="486.3" r="2.0" fill="url(#s92)"/>
<circle cx="527.6" cy="425.7" r="1.75" fill="#000"/>
<circle cx="527.4" cy="425.5" r="0.65" fill="#507000" fill-opacity="0.85"/>
<polygon points="527.6,483.2 528.42,485.17 530.55,485.34 528.93,486.73 529.42,488.81 527.6,487.69 525.78,488.81 526.27,486.73 524.65,485.34 526.78,485.17" fill="#f57a10"/>
<line x1="536.9" y1="485.3" x2="544.4" y2="479.5" stroke="#f08020" stroke-width="0.8"/>
<polygon points="545.4,478.8 544.03,481.31 542.6,479.39" fill="#f08020"/>
<text x="0" y="0" transform="translate(542.9,478.4) scale(0.9,1)" font-family="Liberation Serif, serif" font-weight="bold" font-size="7.8" fill="#1a1a1a" stroke="#1a1a1a" stroke-width="0.28">24.39</text>
<text x="0" y="0" transform="translate(584.5,400.4) scale(0.925,1)" text-anchor="end" font-family="Liberation Serif, serif" font-size="7.9" fill="#262626" stroke="#262626" stroke-width="0.16">25.42</text>
<text x="0" y="0" transform="translate(584.5,478.4) scale(0.925,1)" text-anchor="end" font-family="Liberation Serif, serif" font-size="7.9" fill="#262626" stroke="#262626" stroke-width="0.16">24.52</text>
<text x="0" y="0" transform="translate(579.1,423.4) scale(0.925,1)" text-anchor="end" font-family="Liberation Serif, serif" font-size="7.9" fill="#262626" stroke="#262626" stroke-width="0.16">25.15</text>
<path d="M585,397.3 H587.4 V475.3 H585" fill="none" stroke="#5a5a5a" stroke-width="1.05"/>
<rect x="579.1" y="408.3" width="8.3" height="30" fill="url(#g26)" stroke="#404040" stroke-width="0.8"/>
<line x1="579.1" y1="420.3" x2="587.4" y2="420.3" stroke="#383838" stroke-width="1.2"/>
<path d="M598.4,381.7 C599.22,384.75 601.8,394.52 603.3,400 C604.8,405.48 606.55,410.13 607.4,414.6 C608.25,419.07 608.4,422.33 608.4,426.8 C608.4,431.27 608.05,436.53 607.4,441.4 C606.75,446.27 605.58,451.12 604.5,456 C603.42,460.88 602.03,465.82 600.9,470.7 C599.77,475.58 598.52,479.98 597.7,485.3 C596.88,490.62 596.28,499.72 596,502.6" fill="none" stroke="#f05858" stroke-width="0.8" stroke-dasharray="1.6,1.4" stroke-opacity="0.8"/>
<circle cx="594.9" cy="397.1" r="2.0" fill="url(#s71)"/>
<circle cx="594.9" cy="401.1" r="2.0" fill="url(#s83)"/>
<circle cx="598.4" cy="404.1" r="2.0" fill="url(#s82)"/>
<circle cx="601.4" cy="412.9" r="2.0" fill="url(#s84)"/>
<circle cx="604.7" cy="412" r="2.0" fill="url(#s88)"/>
<circle cx="601.4" cy="417.8" r="2.0" fill="url(#s85)"/>
<circle cx="598.4" cy="422.8" r="2.0" fill="url(#s87)"/>
<circle cx="594.9" cy="430" r="2.0" fill="url(#s89)"/>
<circle cx="594.9" cy="435.5" r="2.0" fill="url(#s86)"/>
<circle cx="598.4" cy="441.2" r="2.0" fill="url(#s91)"/>
<circle cx="594.9" cy="475.3" r="2.0" fill="url(#s93)"/>
<circle cx="594.9" cy="497" r="2.0" fill="url(#s92)"/>
<circle cx="587.4" cy="420.3" r="1.75" fill="#000"/>
<circle cx="587.2" cy="420.1" r="0.65" fill="#507000" fill-opacity="0.85"/>
<polygon points="587.6,493.9 588.42,495.87 590.55,496.04 588.93,497.43 589.42,499.51 587.6,498.39 585.78,499.51 586.27,497.43 584.65,496.04 586.78,495.87" fill="#f57a10"/>
<line x1="596.5" y1="496" x2="603.1" y2="491.6" stroke="#f08020" stroke-width="0.8"/>
<polygon points="604.1,490.9 602.6,493.34 601.27,491.34" fill="#f08020"/>
<text x="0" y="0" transform="translate(605.5,494.4) scale(0.9,1)" font-family="Liberation Serif, serif" font-weight="bold" font-size="7.8" fill="#1a1a1a" stroke="#1a1a1a" stroke-width="0.28">24.27</text>
<text x="0" y="0" transform="translate(644.3,401.1) scale(0.925,1)" text-anchor="end" font-family="Liberation Serif, serif" font-size="7.9" fill="#262626" stroke="#262626" stroke-width="0.16">25.41</text>
<text x="0" y="0" transform="translate(644.3,499.6) scale(0.925,1)" text-anchor="end" font-family="Liberation Serif, serif" font-size="7.9" fill="#262626" stroke="#262626" stroke-width="0.16">24.28</text>
<text x="0" y="0" transform="translate(639,426.3) scale(0.925,1)" text-anchor="end" font-family="Liberation Serif, serif" font-size="7.9" fill="#262626" stroke="#262626" stroke-width="0.16">25.12</text>
<path d="M644.8,398 H647.2 V496.5 H644.8" fill="none" stroke="#5a5a5a" stroke-width="1.05"/>
<rect x="639" y="400.8" width="8.2" height="38.4" fill="url(#g27)" stroke="#404040" stroke-width="0.8"/>
<line x1="639" y1="423.2" x2="647.2" y2="423.2" stroke="#383838" stroke-width="1.2"/>
<path d="M659.1,380.9 C659.92,384.08 662.68,394.38 664,400 C665.32,405.62 666.38,410.13 667,414.6 C667.62,419.07 667.87,422.33 667.7,426.8 C667.53,431.27 666.73,436.53 666,441.4 C665.27,446.27 664.28,451.12 663.3,456 C662.32,460.88 661.03,465.82 660.1,470.7 C659.17,475.58 658.47,480.02 657.7,485.3 C656.93,490.58 655.87,499.55 655.5,502.4" fill="none" stroke="#f8a868" stroke-width="0.8" stroke-dasharray="1.6,1.4" stroke-opacity="0.8"/>
<circle cx="654.9" cy="398" r="2.0" fill="url(#s83)"/>
<circle cx="659.3" cy="397.5" r="2.0" fill="url(#s82)"/>
<circle cx="659.3" cy="399.3" r="2.0" fill="url(#s84)"/>
<circle cx="654.9" cy="401.3" r="2.0" fill="url(#s71)"/>
<circle cx="663.4" cy="412.2" r="2.0" fill="url(#s88)"/>
<circle cx="659.1" cy="423.4" r="2.0" fill="url(#s87)"/>
<circle cx="663.4" cy="422.8" r="2.0" fill="url(#s85)"/>
<circle cx="654.9" cy="431.3" r="2.0" fill="url(#s90)"/>
<circle cx="654.9" cy="435.9" r="2.0" fill="url(#s89)"/>
<circle cx="659.3" cy="442.5" r="2.0" fill="url(#s86)"/>
<circle cx="654.9" cy="486.3" r="2.0" fill="url(#s91)"/>
<circle cx="659.3" cy="496.6" r="2.0" fill="url(#s91)"/>
<circle cx="647.2" cy="423.2" r="1.75" fill="#000"/>
<circle cx="647" cy="423" r="0.65" fill="#507000" fill-opacity="0.85"/></svg></body></html>
